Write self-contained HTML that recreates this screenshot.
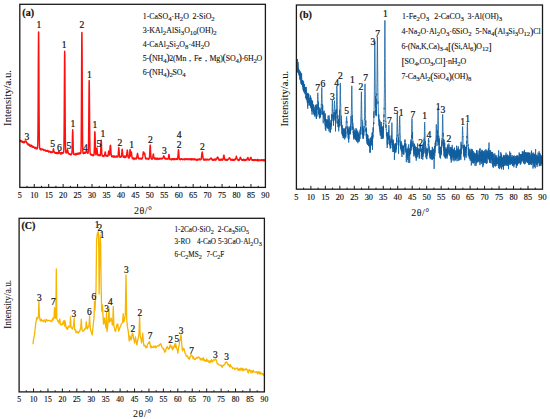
<!DOCTYPE html>
<html><head><meta charset="utf-8"><style>
html,body{margin:0;padding:0;background:#fff;}
body{width:550px;height:419px;overflow:hidden;font-family:"Liberation Serif",serif;}
svg{display:block;}
</style></head><body>
<svg width="550" height="419" viewBox="0 0 550 419" font-family='"Liberation Serif", serif' fill="#111">
<style>text{stroke:#111;stroke-width:0.2px;} text.lg{stroke-width:0.1px;} text.tk{stroke-width:0.15px;} text.ax{stroke-width:0.05px;}</style>
<rect width="550" height="419" fill="#fff"/>
<polyline points="19.80,140.55 19.92,140.59 20.04,141.17 20.16,140.31 20.28,140.99 20.40,140.39 20.52,141.43 20.64,141.19 20.76,141.57 20.88,141.04 21.00,141.35 21.12,141.17 21.24,141.07 21.36,141.37 21.48,140.98 21.60,141.28 21.72,141.63 21.84,141.47 21.96,141.37 22.08,142.18 22.20,141.57 22.32,141.41 22.44,141.66 22.56,141.49 22.68,141.56 22.80,141.61 22.92,142.35 23.04,141.78 23.16,141.86 23.28,142.04 23.40,142.47 23.52,141.83 23.64,141.74 23.76,142.70 23.88,141.55 24.00,141.91 24.12,142.24 24.24,142.74 24.36,141.78 24.48,141.33 24.60,142.23 24.72,141.83 24.84,141.79 24.96,141.93 25.08,141.72 25.20,141.58 25.32,141.21 25.44,141.57 25.56,141.52 25.68,141.01 25.80,140.86 25.92,141.34 26.04,141.45 26.16,141.23 26.28,141.67 26.40,142.40 26.52,142.33 26.64,142.51 26.76,142.90 26.88,143.03 27.00,143.21 27.12,142.77 27.24,144.00 27.36,143.64 27.48,143.42 27.60,144.07 27.72,143.96 27.84,143.96 27.96,144.36 28.08,144.81 28.20,144.38 28.32,144.78 28.44,145.03 28.56,144.17 28.68,144.40 28.80,144.88 28.92,144.22 29.04,144.73 29.16,145.29 29.28,145.30 29.40,145.25 29.52,144.59 29.64,145.95 29.76,145.49 29.88,145.64 30.00,145.65 30.12,145.04 30.24,145.18 30.36,145.30 30.48,146.29 30.60,145.52 30.72,145.75 30.84,145.80 30.96,146.10 31.08,146.14 31.20,146.12 31.32,145.72 31.44,145.21 31.56,146.25 31.68,146.34 31.80,146.68 31.92,146.33 32.04,146.23 32.16,146.60 32.28,146.06 32.40,146.27 32.52,146.33 32.64,146.77 32.76,147.37 32.88,147.03 33.00,147.19 33.12,146.98 33.24,147.04 33.36,146.88 33.48,146.98 33.60,146.39 33.72,146.81 33.84,146.84 33.96,147.53 34.08,147.53 34.20,147.73 34.32,147.91 34.44,147.41 34.56,147.87 34.68,148.19 34.80,147.66 34.92,148.04 35.04,147.72 35.16,147.34 35.28,147.91 35.40,147.68 35.52,148.02 35.64,147.90 35.76,148.19 35.88,147.50 36.00,148.83 36.12,148.63 36.24,148.14 36.36,148.00 36.48,148.30 36.60,148.52 36.72,148.47 36.84,148.49 36.96,147.80 37.08,148.07 37.20,148.83 37.32,148.47 37.44,147.79 37.56,147.43 37.68,145.67 37.80,141.98 37.92,134.77 38.04,120.48 38.16,100.29 38.28,74.71 38.40,49.67 38.52,33.52 38.64,31.87 38.76,43.23 38.88,65.83 39.00,92.37 39.12,114.63 39.24,130.79 39.36,140.97 39.48,144.98 39.60,147.85 39.72,148.25 39.84,148.44 39.96,148.72 40.08,149.36 40.20,149.00 40.32,148.50 40.44,148.75 40.56,149.58 40.68,149.45 40.80,148.83 40.92,149.93 41.04,149.10 41.16,148.87 41.28,149.21 41.40,149.57 41.52,149.80 41.64,149.64 41.76,149.22 41.88,149.20 42.00,148.95 42.12,149.41 42.24,149.29 42.36,149.58 42.48,149.16 42.60,149.42 42.72,149.35 42.84,149.28 42.96,149.32 43.08,149.41 43.20,149.40 43.32,149.97 43.44,149.86 43.56,149.46 43.68,150.06 43.80,150.03 43.92,150.42 44.04,149.95 44.16,149.98 44.28,149.87 44.40,150.16 44.52,150.31 44.64,150.25 44.76,150.15 44.88,150.44 45.00,150.33 45.12,150.41 45.24,150.09 45.36,150.47 45.48,150.14 45.60,150.22 45.72,150.57 45.84,151.20 45.96,150.89 46.08,150.63 46.20,150.61 46.32,151.00 46.44,151.16 46.56,151.14 46.68,150.75 46.80,150.90 46.92,150.77 47.04,150.82 47.16,150.69 47.28,150.91 47.40,150.36 47.52,150.69 47.64,151.22 47.76,150.84 47.88,151.33 48.00,150.80 48.12,151.12 48.24,151.38 48.36,150.98 48.48,151.11 48.60,152.11 48.72,151.18 48.84,151.20 48.96,151.27 49.08,151.49 49.20,151.50 49.32,151.84 49.44,151.82 49.56,151.48 49.68,151.53 49.80,151.23 49.92,151.24 50.04,151.50 50.16,151.99 50.28,151.83 50.40,152.07 50.52,152.14 50.64,151.84 50.76,152.56 50.88,151.79 51.00,151.79 51.12,151.88 51.24,152.39 51.36,152.03 51.48,151.88 51.60,152.27 51.72,152.51 51.84,152.16 51.96,152.15 52.08,152.59 52.20,152.59 52.32,152.60 52.44,152.08 52.56,152.38 52.68,152.30 52.80,151.41 52.92,151.94 53.04,151.03 53.16,150.19 53.28,150.30 53.40,149.17 53.52,148.79 53.64,149.28 53.76,150.08 53.88,150.90 54.00,151.35 54.12,151.67 54.24,152.10 54.36,152.29 54.48,152.34 54.60,152.73 54.72,152.62 54.84,152.81 54.96,152.56 55.08,152.57 55.20,152.80 55.32,152.77 55.44,153.24 55.56,152.63 55.68,152.99 55.80,152.94 55.92,152.57 56.04,153.21 56.16,153.06 56.28,152.38 56.40,153.23 56.52,153.35 56.64,152.84 56.76,153.62 56.88,153.17 57.00,152.79 57.12,153.33 57.24,153.07 57.36,152.79 57.48,152.56 57.60,153.31 57.72,153.03 57.84,153.47 57.96,153.39 58.08,153.09 58.20,153.02 58.32,153.57 58.44,153.30 58.56,152.65 58.68,151.87 58.80,151.25 58.92,151.15 59.04,151.72 59.16,151.53 59.28,151.66 59.40,151.80 59.52,152.62 59.64,152.59 59.76,153.05 59.88,153.37 60.00,153.51 60.12,153.24 60.24,153.08 60.36,153.24 60.48,153.71 60.60,153.26 60.72,152.70 60.84,153.59 60.96,153.18 61.08,154.15 61.20,152.92 61.32,153.02 61.44,152.95 61.56,153.14 61.68,152.83 61.80,152.54 61.92,152.39 62.04,152.92 62.16,152.79 62.28,152.75 62.40,153.56 62.52,153.14 62.64,153.22 62.76,152.72 62.88,152.95 63.00,152.77 63.12,152.76 63.24,153.03 63.36,152.95 63.48,152.77 63.60,152.43 63.72,151.09 63.84,149.11 63.96,144.61 64.08,135.17 64.20,120.13 64.32,100.27 64.44,77.65 64.56,59.28 64.68,51.16 64.80,55.16 64.92,71.44 65.04,92.83 65.16,114.29 65.28,131.22 65.40,141.22 65.52,147.94 65.64,150.45 65.76,151.87 65.88,152.39 66.00,152.92 66.12,152.55 66.24,153.05 66.36,152.38 66.48,152.48 66.60,152.44 66.72,152.54 66.84,151.94 66.96,151.32 67.08,150.85 67.20,149.91 67.32,150.19 67.44,149.74 67.56,149.71 67.68,150.09 67.80,150.50 67.92,151.30 68.04,152.34 68.16,152.37 68.28,152.72 68.40,153.66 68.52,153.80 68.64,153.51 68.76,153.66 68.88,153.63 69.00,154.08 69.12,153.58 69.24,153.81 69.36,154.00 69.48,154.35 69.60,153.91 69.72,154.12 69.84,153.97 69.96,153.99 70.08,154.06 70.20,154.35 70.32,154.67 70.44,154.26 70.56,154.32 70.68,154.37 70.80,154.59 70.92,154.69 71.04,154.10 71.16,154.58 71.28,154.16 71.40,154.67 71.52,154.12 71.64,153.98 71.76,153.81 71.88,153.31 72.00,151.56 72.12,149.28 72.24,145.23 72.36,140.09 72.48,134.95 72.60,131.36 72.72,129.82 72.84,132.09 72.96,136.49 73.08,141.19 73.20,146.75 73.32,149.96 73.44,152.18 73.56,153.41 73.68,154.09 73.80,154.36 73.92,154.47 74.04,154.13 74.16,154.55 74.28,154.46 74.40,154.21 74.52,154.32 74.64,154.56 74.76,154.44 74.88,154.51 75.00,154.33 75.12,154.62 75.24,154.93 75.36,154.38 75.48,153.74 75.60,154.72 75.72,154.01 75.84,153.75 75.96,153.43 76.08,154.26 76.20,154.44 76.32,154.39 76.44,153.95 76.56,154.48 76.68,154.01 76.80,153.83 76.92,154.01 77.04,154.04 77.16,153.97 77.28,154.06 77.40,153.26 77.52,154.37 77.64,153.71 77.76,154.05 77.88,153.60 78.00,153.87 78.12,153.75 78.24,153.31 78.36,153.88 78.48,153.93 78.60,153.39 78.72,153.08 78.84,153.49 78.96,153.41 79.08,153.68 79.20,153.62 79.32,154.09 79.44,153.78 79.56,153.49 79.68,153.60 79.80,152.67 79.92,153.24 80.04,153.22 80.16,153.45 80.28,153.56 80.40,153.51 80.52,153.70 80.64,153.13 80.76,153.18 80.88,152.32 81.00,150.40 81.12,145.93 81.24,136.62 81.36,121.16 81.48,98.60 81.60,72.27 81.72,47.29 81.84,32.41 81.96,33.09 82.08,47.46 82.20,72.04 82.32,98.83 82.44,120.66 82.56,136.75 82.68,145.86 82.80,150.30 82.92,152.39 83.04,153.04 83.16,153.38 83.28,152.88 83.40,153.20 83.52,152.90 83.64,153.42 83.76,153.07 83.88,152.63 84.00,153.03 84.12,152.68 84.24,153.25 84.36,152.84 84.48,152.26 84.60,152.78 84.72,153.19 84.84,152.96 84.96,152.65 85.08,153.00 85.20,152.95 85.32,153.16 85.44,152.91 85.56,152.63 85.68,152.12 85.80,152.21 85.92,151.94 86.04,151.56 86.16,151.41 86.28,150.73 86.40,151.17 86.52,151.10 86.64,151.41 86.76,151.55 86.88,151.80 87.00,152.25 87.12,152.65 87.24,152.50 87.36,152.82 87.48,152.58 87.60,153.00 87.72,152.92 87.84,152.56 87.96,153.27 88.08,152.54 88.20,152.38 88.32,150.68 88.44,147.53 88.56,142.27 88.68,131.67 88.80,117.48 88.92,102.05 89.04,87.62 89.16,80.46 89.28,82.72 89.40,92.35 89.52,107.90 89.64,123.77 89.76,136.56 89.88,145.16 90.00,150.62 90.12,152.60 90.24,153.79 90.36,154.14 90.48,153.91 90.60,154.48 90.72,154.47 90.84,154.71 90.96,154.79 91.08,155.11 91.20,154.15 91.32,154.61 91.44,154.70 91.56,154.65 91.68,155.09 91.80,155.01 91.92,155.14 92.04,154.68 92.16,154.94 92.28,155.27 92.40,155.16 92.52,155.10 92.64,155.24 92.76,155.18 92.88,154.94 93.00,155.74 93.12,155.03 93.24,155.42 93.36,155.39 93.48,155.49 93.60,155.01 93.72,154.85 93.84,155.17 93.96,154.83 94.08,153.36 94.20,151.83 94.32,149.83 94.44,145.89 94.56,140.87 94.68,135.94 94.80,131.80 94.92,131.83 95.04,133.33 95.16,137.79 95.28,142.73 95.40,146.79 95.52,150.98 95.64,152.91 95.76,154.31 95.88,154.58 96.00,154.84 96.12,154.13 96.24,153.71 96.36,152.88 96.48,151.37 96.60,150.01 96.72,149.04 96.84,148.67 96.96,148.05 97.08,149.15 97.20,149.89 97.32,151.57 97.44,153.11 97.56,154.16 97.68,154.31 97.80,155.14 97.92,155.18 98.04,155.61 98.16,155.54 98.28,155.44 98.40,155.18 98.52,155.39 98.64,155.08 98.76,155.10 98.88,154.81 99.00,154.99 99.12,155.01 99.24,155.37 99.36,155.45 99.48,155.04 99.60,155.42 99.72,155.58 99.84,155.75 99.96,155.45 100.08,155.53 100.20,155.26 100.32,155.38 100.44,154.01 100.56,153.29 100.68,150.44 100.80,148.70 100.92,145.11 101.04,141.27 101.16,140.15 101.28,140.24 101.40,142.30 101.52,145.93 101.64,149.11 101.76,152.39 101.88,153.76 102.00,154.64 102.12,155.46 102.24,155.83 102.36,156.05 102.48,155.99 102.60,155.43 102.72,155.64 102.84,155.85 102.96,155.67 103.08,156.16 103.20,155.85 103.32,155.95 103.44,155.88 103.56,156.01 103.68,155.55 103.80,156.62 103.92,155.82 104.04,155.76 104.16,155.42 104.28,155.84 104.40,155.30 104.52,155.49 104.64,155.24 104.76,154.36 104.88,153.23 105.00,152.97 105.12,152.04 105.24,152.01 105.36,152.41 105.48,152.95 105.60,154.04 105.72,154.31 105.84,154.72 105.96,155.97 106.08,155.61 106.20,155.82 106.32,156.07 106.44,155.85 106.56,155.64 106.68,155.94 106.80,155.72 106.92,156.16 107.04,155.86 107.16,155.92 107.28,156.22 107.40,155.53 107.52,155.54 107.64,156.16 107.76,156.24 107.88,155.72 108.00,155.15 108.12,155.17 108.24,154.17 108.36,153.37 108.48,151.60 108.60,151.44 108.72,151.00 108.84,151.32 108.96,152.57 109.08,153.53 109.20,153.98 109.32,154.54 109.44,155.10 109.56,154.49 109.68,153.37 109.80,152.20 109.92,150.37 110.04,148.10 110.16,146.64 110.28,145.69 110.40,145.38 110.52,145.29 110.64,146.63 110.76,148.41 110.88,150.03 111.00,152.56 111.12,153.80 111.24,155.10 111.36,154.76 111.48,155.58 111.60,156.59 111.72,155.76 111.84,155.70 111.96,156.34 112.08,156.77 112.20,156.51 112.32,156.06 112.44,156.52 112.56,156.50 112.68,156.48 112.80,156.53 112.92,156.68 113.04,156.79 113.16,156.87 113.28,156.80 113.40,156.46 113.52,155.98 113.64,156.70 113.76,156.12 113.88,157.25 114.00,156.25 114.12,156.06 114.24,156.07 114.36,156.75 114.48,156.73 114.60,156.85 114.72,156.75 114.84,156.45 114.96,156.93 115.08,156.50 115.20,156.27 115.32,157.00 115.44,156.90 115.56,156.48 115.68,156.69 115.80,157.08 115.92,157.06 116.04,156.48 116.16,157.14 116.28,156.06 116.40,156.86 116.52,156.96 116.64,156.82 116.76,156.91 116.88,156.41 117.00,156.86 117.12,157.06 117.24,156.65 117.36,156.97 117.48,156.89 117.60,156.26 117.72,156.71 117.84,156.94 117.96,156.02 118.08,155.90 118.20,154.98 118.32,153.03 118.44,151.50 118.56,149.99 118.68,148.54 118.80,147.50 118.92,148.62 119.04,149.81 119.16,151.59 119.28,153.82 119.40,155.06 119.52,155.96 119.64,156.72 119.76,156.93 119.88,157.24 120.00,156.88 120.12,156.40 120.24,157.39 120.36,157.17 120.48,157.08 120.60,156.94 120.72,156.89 120.84,156.94 120.96,156.62 121.08,157.09 121.20,156.80 121.32,156.29 121.44,156.24 121.56,155.34 121.68,154.30 121.80,153.00 121.92,152.03 122.04,149.56 122.16,149.27 122.28,149.51 122.40,150.39 122.52,152.19 122.64,153.21 122.76,154.60 122.88,155.68 123.00,155.88 123.12,156.93 123.24,156.39 123.36,156.98 123.48,157.19 123.60,156.59 123.72,156.78 123.84,156.77 123.96,157.34 124.08,156.90 124.20,156.30 124.32,157.14 124.44,157.12 124.56,156.22 124.68,156.00 124.80,157.58 124.92,156.83 125.04,156.18 125.16,157.15 125.28,157.28 125.40,156.18 125.52,157.29 125.64,157.14 125.76,156.95 125.88,156.75 126.00,157.07 126.12,156.66 126.24,156.82 126.36,156.44 126.48,155.94 126.60,155.56 126.72,154.76 126.84,153.62 126.96,152.31 127.08,151.65 127.20,150.10 127.32,150.33 127.44,150.76 127.56,151.94 127.68,152.06 127.80,153.82 127.92,154.98 128.04,156.03 128.16,157.29 128.28,157.11 128.40,157.27 128.52,157.57 128.64,157.82 128.76,157.53 128.88,158.10 129.00,157.23 129.12,157.89 129.24,157.52 129.36,157.16 129.48,156.53 129.60,154.79 129.72,153.44 129.84,151.77 129.96,150.21 130.08,149.58 130.20,149.90 130.32,151.50 130.44,152.10 130.56,153.87 130.68,155.29 130.80,156.01 130.92,155.26 131.04,154.85 131.16,153.46 131.28,152.52 131.40,151.93 131.52,152.81 131.64,154.17 131.76,154.87 131.88,155.71 132.00,157.14 132.12,157.22 132.24,157.68 132.36,158.57 132.48,158.47 132.60,158.69 132.72,158.51 132.84,158.44 132.96,158.55 133.08,158.43 133.20,158.86 133.32,158.19 133.44,158.04 133.56,158.37 133.68,158.92 133.80,158.52 133.92,158.01 134.04,159.55 134.16,158.42 134.28,158.64 134.40,158.87 134.52,158.81 134.64,158.65 134.76,158.24 134.88,158.86 135.00,158.41 135.12,158.65 135.24,158.93 135.36,158.58 135.48,158.17 135.60,158.52 135.72,158.88 135.84,158.91 135.96,158.31 136.08,158.70 136.20,158.74 136.32,158.92 136.44,158.61 136.56,158.33 136.68,157.85 136.80,157.57 136.92,156.96 137.04,155.85 137.16,154.94 137.28,154.77 137.40,153.73 137.52,153.37 137.64,154.08 137.76,154.12 137.88,154.99 138.00,156.46 138.12,156.99 138.24,157.85 138.36,158.30 138.48,158.14 138.60,158.68 138.72,158.51 138.84,158.73 138.96,158.76 139.08,158.67 139.20,158.31 139.32,158.79 139.44,158.71 139.56,158.86 139.68,158.39 139.80,158.76 139.92,158.64 140.04,158.57 140.16,158.62 140.28,158.63 140.40,158.29 140.52,158.54 140.64,158.56 140.76,158.84 140.88,158.65 141.00,159.12 141.12,158.88 141.24,158.79 141.36,158.76 141.48,158.28 141.60,158.80 141.72,159.06 141.84,158.38 141.96,159.04 142.08,158.78 142.20,158.58 142.32,158.19 142.44,158.03 142.56,157.36 142.68,156.97 142.80,156.19 142.92,155.24 143.04,153.83 143.16,153.47 143.28,152.18 143.40,151.96 143.52,151.86 143.64,151.87 143.76,153.20 143.88,153.23 144.00,153.97 144.12,154.19 144.24,154.41 144.36,153.65 144.48,153.76 144.60,153.13 144.72,153.14 144.84,154.05 144.96,155.01 145.08,155.71 145.20,156.54 145.32,157.04 145.44,157.86 145.56,158.59 145.68,158.79 145.80,158.29 145.92,158.70 146.04,159.01 146.16,158.48 146.28,158.54 146.40,158.43 146.52,158.82 146.64,158.14 146.76,158.66 146.88,158.84 147.00,158.68 147.12,158.98 147.24,158.88 147.36,158.55 147.48,158.40 147.60,158.39 147.72,158.84 147.84,158.66 147.96,158.73 148.08,158.43 148.20,159.04 148.32,158.96 148.44,158.92 148.56,158.37 148.68,159.46 148.80,158.94 148.92,158.36 149.04,158.93 149.16,158.50 149.28,158.04 149.40,157.48 149.52,156.79 149.64,155.01 149.76,152.59 149.88,149.68 150.00,146.85 150.12,145.52 150.24,145.11 150.36,146.39 150.48,149.00 150.60,152.12 150.72,154.00 150.84,156.43 150.96,157.20 151.08,158.37 151.20,158.66 151.32,158.63 151.44,158.74 151.56,158.46 151.68,158.60 151.80,158.98 151.92,158.92 152.04,159.36 152.16,158.38 152.28,158.50 152.40,158.57 152.52,158.35 152.64,157.81 152.76,157.24 152.88,156.53 153.00,156.03 153.12,154.81 153.24,154.14 153.36,154.46 153.48,154.08 153.60,155.40 153.72,156.37 153.84,157.45 153.96,157.29 154.08,158.27 154.20,158.23 154.32,158.92 154.44,158.91 154.56,158.56 154.68,158.84 154.80,158.36 154.92,158.76 155.04,158.78 155.16,159.01 155.28,158.57 155.40,158.07 155.52,158.93 155.64,158.38 155.76,158.54 155.88,158.59 156.00,159.18 156.12,158.69 156.24,159.04 156.36,158.72 156.48,158.29 156.60,158.83 156.72,158.85 156.84,158.54 156.96,158.24 157.08,159.53 157.20,159.32 157.32,158.82 157.44,158.84 157.56,158.98 157.68,158.87 157.80,158.27 157.92,158.30 158.04,158.94 158.16,159.10 158.28,159.01 158.40,158.94 158.52,158.70 158.64,158.98 158.76,159.15 158.88,158.86 159.00,159.07 159.12,159.05 159.24,158.49 159.36,159.04 159.48,158.48 159.60,158.43 159.72,159.17 159.84,158.22 159.96,158.65 160.08,158.96 160.20,158.81 160.32,158.59 160.44,158.43 160.56,158.85 160.68,158.86 160.80,158.68 160.92,158.42 161.04,158.28 161.16,158.70 161.28,158.69 161.40,158.94 161.52,158.61 161.64,158.96 161.76,158.34 161.88,158.19 162.00,158.96 162.12,158.56 162.24,158.42 162.36,158.59 162.48,158.21 162.60,158.38 162.72,157.94 162.84,158.20 162.96,157.74 163.08,157.61 163.20,157.30 163.32,157.10 163.44,156.17 163.56,156.46 163.68,156.18 163.80,155.87 163.92,156.19 164.04,156.59 164.16,156.85 164.28,157.61 164.40,157.28 164.52,157.76 164.64,158.58 164.76,158.10 164.88,158.23 165.00,158.49 165.12,158.56 165.24,158.80 165.36,158.90 165.48,158.67 165.60,158.58 165.72,158.91 165.84,158.58 165.96,158.71 166.08,159.06 166.20,158.94 166.32,158.68 166.44,158.56 166.56,158.70 166.68,158.56 166.80,159.16 166.92,159.22 167.04,159.10 167.16,159.11 167.28,158.89 167.40,159.09 167.52,159.06 167.64,159.06 167.76,158.90 167.88,158.70 168.00,159.00 168.12,158.84 168.24,158.05 168.36,157.74 168.48,157.04 168.60,156.33 168.72,154.92 168.84,154.55 168.96,154.57 169.08,155.08 169.20,155.91 169.32,157.34 169.44,157.54 169.56,159.08 169.68,158.91 169.80,159.23 169.92,159.12 170.04,159.43 170.16,159.30 170.28,159.43 170.40,159.37 170.52,159.38 170.64,159.31 170.76,159.52 170.88,159.21 171.00,159.05 171.12,159.66 171.24,159.06 171.36,159.32 171.48,159.81 171.60,159.02 171.72,159.12 171.84,159.01 171.96,158.93 172.08,159.39 172.20,159.14 172.32,159.24 172.44,158.71 172.56,159.34 172.68,158.99 172.80,158.64 172.92,158.99 173.04,158.74 173.16,159.66 173.28,158.71 173.40,159.28 173.52,158.90 173.64,158.96 173.76,158.83 173.88,159.55 174.00,158.88 174.12,159.02 174.24,159.27 174.36,159.09 174.48,159.40 174.60,158.99 174.72,158.73 174.84,159.33 174.96,159.55 175.08,159.35 175.20,158.96 175.32,159.54 175.44,159.43 175.56,159.09 175.68,159.33 175.80,159.19 175.92,159.23 176.04,159.39 176.16,159.45 176.28,159.23 176.40,159.22 176.52,158.48 176.64,158.97 176.76,159.33 176.88,158.97 177.00,159.31 177.12,159.14 177.24,159.21 177.36,159.18 177.48,159.45 177.60,159.00 177.72,158.43 177.84,157.27 177.96,156.45 178.08,154.31 178.20,153.05 178.32,150.76 178.44,149.76 178.56,149.89 178.68,150.68 178.80,152.83 178.92,154.72 179.04,156.15 179.16,157.46 179.28,158.95 179.40,159.19 179.52,159.23 179.64,159.24 179.76,159.62 179.88,159.09 180.00,159.12 180.12,159.16 180.24,158.90 180.36,158.95 180.48,159.73 180.60,159.25 180.72,158.95 180.84,159.13 180.96,159.06 181.08,159.08 181.20,159.19 181.32,158.78 181.44,158.68 181.56,159.14 181.68,159.13 181.80,158.86 181.92,159.17 182.04,159.04 182.16,159.26 182.28,159.14 182.40,159.52 182.52,159.61 182.64,159.39 182.76,159.21 182.88,159.45 183.00,159.41 183.12,159.34 183.24,159.43 183.36,159.10 183.48,159.43 183.60,159.36 183.72,159.32 183.84,159.16 183.96,159.09 184.08,159.37 184.20,159.06 184.32,158.90 184.44,159.69 184.56,159.55 184.68,158.98 184.80,159.60 184.92,158.62 185.04,159.38 185.16,159.40 185.28,159.28 185.40,159.15 185.52,159.43 185.64,159.35 185.76,158.88 185.88,159.00 186.00,159.49 186.12,159.42 186.24,158.88 186.36,158.78 186.48,159.33 186.60,158.97 186.72,159.00 186.84,159.06 186.96,159.27 187.08,158.63 187.20,159.43 187.32,159.10 187.44,159.47 187.56,158.88 187.68,158.96 187.80,159.35 187.92,159.49 188.04,159.19 188.16,159.11 188.28,159.59 188.40,159.52 188.52,159.29 188.64,159.14 188.76,159.57 188.88,159.41 189.00,159.11 189.12,159.63 189.24,159.52 189.36,159.27 189.48,159.34 189.60,159.43 189.72,159.08 189.84,158.86 189.96,159.55 190.08,158.74 190.20,158.78 190.32,158.81 190.44,159.36 190.56,159.52 190.68,159.04 190.80,159.60 190.92,159.71 191.04,159.63 191.16,158.87 191.28,159.62 191.40,159.91 191.52,159.00 191.64,158.79 191.76,159.63 191.88,159.41 192.00,159.26 192.12,159.26 192.24,158.78 192.36,159.04 192.48,159.34 192.60,159.42 192.72,159.56 192.84,159.56 192.96,159.16 193.08,159.28 193.20,159.71 193.32,158.92 193.44,159.46 193.56,159.07 193.68,159.38 193.80,159.85 193.92,159.44 194.04,159.20 194.16,159.14 194.28,158.93 194.40,159.33 194.52,158.69 194.64,159.32 194.76,159.39 194.88,159.09 195.00,159.13 195.12,159.70 195.24,159.72 195.36,159.96 195.48,159.70 195.60,159.47 195.72,159.32 195.84,159.74 195.96,159.58 196.08,159.44 196.20,159.91 196.32,159.35 196.44,159.45 196.56,159.72 196.68,159.55 196.80,159.44 196.92,159.72 197.04,160.22 197.16,159.33 197.28,159.63 197.40,159.55 197.52,159.48 197.64,159.92 197.76,159.42 197.88,159.94 198.00,159.17 198.12,159.49 198.24,159.22 198.36,159.57 198.48,159.66 198.60,159.63 198.72,159.54 198.84,159.40 198.96,159.13 199.08,159.73 199.20,159.49 199.32,159.82 199.44,159.01 199.56,159.42 199.68,159.01 199.80,159.82 199.92,159.30 200.04,159.21 200.16,159.77 200.28,159.49 200.40,159.58 200.52,159.47 200.64,159.81 200.76,159.52 200.88,159.42 201.00,159.18 201.12,159.19 201.24,158.82 201.36,157.80 201.48,157.37 201.60,155.74 201.72,154.90 201.84,153.94 201.96,153.00 202.08,152.77 202.20,152.01 202.32,152.17 202.44,153.28 202.56,153.86 202.68,155.17 202.80,156.23 202.92,156.97 203.04,157.83 203.16,158.80 203.28,158.98 203.40,159.27 203.52,159.62 203.64,159.31 203.76,159.23 203.88,159.50 204.00,160.09 204.12,159.80 204.24,160.28 204.36,159.93 204.48,159.91 204.60,159.50 204.72,159.17 204.84,159.04 204.96,159.70 205.08,159.34 205.20,159.32 205.32,159.83 205.44,159.76 205.56,159.30 205.68,159.75 205.80,160.08 205.92,159.96 206.04,159.49 206.16,159.96 206.28,159.12 206.40,159.61 206.52,159.57 206.64,160.06 206.76,159.36 206.88,159.44 207.00,159.62 207.12,159.94 207.24,159.32 207.36,159.80 207.48,159.63 207.60,159.60 207.72,159.37 207.84,159.86 207.96,159.79 208.08,159.87 208.20,159.80 208.32,159.72 208.44,159.49 208.56,159.74 208.68,159.97 208.80,159.77 208.92,159.87 209.04,159.94 209.16,159.74 209.28,159.52 209.40,159.24 209.52,159.79 209.64,159.27 209.76,159.14 209.88,159.07 210.00,159.13 210.12,158.99 210.24,158.39 210.36,158.45 210.48,158.72 210.60,158.15 210.72,158.32 210.84,158.09 210.96,157.98 211.08,158.14 211.20,158.69 211.32,158.88 211.44,158.20 211.56,159.03 211.68,159.18 211.80,158.92 211.92,159.46 212.04,159.34 212.16,160.03 212.28,159.40 212.40,160.03 212.52,159.41 212.64,159.47 212.76,160.20 212.88,159.58 213.00,159.67 213.12,159.34 213.24,159.85 213.36,160.21 213.48,159.72 213.60,159.73 213.72,159.81 213.84,159.58 213.96,159.43 214.08,159.82 214.20,159.71 214.32,159.30 214.44,159.10 214.56,159.94 214.68,159.44 214.80,159.94 214.92,160.06 215.04,159.78 215.16,159.63 215.28,159.06 215.40,160.23 215.52,160.04 215.64,159.54 215.76,159.42 215.88,159.83 216.00,159.05 216.12,159.76 216.24,159.73 216.36,158.97 216.48,158.85 216.60,159.49 216.72,158.62 216.84,158.58 216.96,158.19 217.08,157.46 217.20,158.14 217.32,158.15 217.44,157.39 217.56,157.25 217.68,157.96 217.80,157.16 217.92,157.64 218.04,157.52 218.16,157.67 218.28,158.19 218.40,157.83 218.52,158.48 218.64,159.05 218.76,159.01 218.88,159.05 219.00,160.21 219.12,159.81 219.24,159.50 219.36,160.02 219.48,159.93 219.60,159.81 219.72,159.99 219.84,159.68 219.96,159.63 220.08,160.32 220.20,159.82 220.32,160.24 220.44,159.22 220.56,159.53 220.68,159.53 220.80,159.84 220.92,159.78 221.04,160.08 221.16,159.95 221.28,159.80 221.40,159.95 221.52,160.01 221.64,159.88 221.76,159.09 221.88,159.66 222.00,159.98 222.12,159.69 222.24,160.21 222.36,159.65 222.48,159.80 222.60,159.53 222.72,159.67 222.84,159.93 222.96,159.83 223.08,159.36 223.20,158.83 223.32,158.03 223.44,156.85 223.56,156.60 223.68,155.52 223.80,155.32 223.92,155.08 224.04,155.60 224.16,155.73 224.28,156.91 224.40,157.49 224.52,158.69 224.64,158.77 224.76,159.18 224.88,158.95 225.00,159.90 225.12,159.74 225.24,159.13 225.36,159.93 225.48,159.94 225.60,159.71 225.72,160.18 225.84,159.77 225.96,159.76 226.08,159.92 226.20,159.47 226.32,159.96 226.44,159.55 226.56,159.87 226.68,160.12 226.80,159.69 226.92,159.61 227.04,160.28 227.16,159.80 227.28,160.10 227.40,159.95 227.52,159.89 227.64,160.14 227.76,159.68 227.88,159.19 228.00,159.49 228.12,159.29 228.24,159.02 228.36,159.09 228.48,159.17 228.60,159.01 228.72,158.71 228.84,158.46 228.96,158.35 229.08,158.05 229.20,157.83 229.32,158.04 229.44,158.26 229.56,157.84 229.68,158.15 229.80,158.48 229.92,158.16 230.04,158.73 230.16,158.86 230.28,159.29 230.40,158.90 230.52,159.18 230.64,159.89 230.76,160.14 230.88,159.80 231.00,160.09 231.12,159.55 231.24,160.06 231.36,159.88 231.48,160.00 231.60,159.46 231.72,159.87 231.84,160.03 231.96,160.15 232.08,159.96 232.20,159.96 232.32,160.12 232.44,160.34 232.56,159.43 232.68,159.30 232.80,159.85 232.92,160.31 233.04,160.37 233.16,160.06 233.28,159.58 233.40,160.02 233.52,159.67 233.64,160.10 233.76,159.81 233.88,160.35 234.00,159.58 234.12,160.28 234.24,159.65 234.36,160.06 234.48,159.95 234.60,159.47 234.72,159.29 234.84,159.78 234.96,159.70 235.08,159.55 235.20,159.83 235.32,159.54 235.44,159.39 235.56,158.59 235.68,158.45 235.80,158.01 235.92,157.90 236.04,157.58 236.16,156.79 236.28,156.81 236.40,156.17 236.52,157.70 236.64,157.58 236.76,158.06 236.88,158.46 237.00,158.73 237.12,158.62 237.24,159.13 237.36,159.35 237.48,159.65 237.60,159.47 237.72,159.90 237.84,160.05 237.96,159.93 238.08,159.93 238.20,160.58 238.32,159.66 238.44,159.70 238.56,160.14 238.68,159.79 238.80,160.39 238.92,159.68 239.04,159.85 239.16,160.31 239.28,159.26 239.40,159.91 239.52,159.51 239.64,159.25 239.76,159.29 239.88,158.37 240.00,158.37 240.12,157.73 240.24,158.01 240.36,157.16 240.48,157.53 240.60,157.55 240.72,157.66 240.84,158.61 240.96,158.55 241.08,159.17 241.20,158.61 241.32,159.21 241.44,159.38 241.56,159.89 241.68,159.38 241.80,159.99 241.92,160.19 242.04,159.95 242.16,159.97 242.28,159.82 242.40,159.68 242.52,159.92 242.64,160.00 242.76,160.37 242.88,159.99 243.00,159.73 243.12,160.18 243.24,159.64 243.36,159.35 243.48,159.87 243.60,159.73 243.72,160.13 243.84,159.93 243.96,159.56 244.08,159.73 244.20,159.80 244.32,160.55 244.44,159.58 244.56,159.64 244.68,160.31 244.80,160.38 244.92,159.85 245.04,160.36 245.16,159.93 245.28,159.69 245.40,159.93 245.52,160.22 245.64,160.39 245.76,159.90 245.88,159.58 246.00,160.03 246.12,159.82 246.24,159.75 246.36,160.06 246.48,159.97 246.60,159.50 246.72,159.58 246.84,160.06 246.96,159.41 247.08,159.76 247.20,158.24 247.32,158.31 247.44,158.32 247.56,157.76 247.68,157.92 247.80,157.82 247.92,157.47 248.04,158.59 248.16,158.84 248.28,158.14 248.40,158.87 248.52,158.86 248.64,159.37 248.76,159.54 248.88,159.73 249.00,160.21 249.12,160.28 249.24,159.86 249.36,160.07 249.48,160.12 249.60,159.41 249.72,159.80 249.84,159.33 249.96,159.76 250.08,159.52 250.20,158.91 250.32,158.89 250.44,158.01 250.56,157.55 250.68,157.97 250.80,157.51 250.92,157.68 251.04,157.40 251.16,158.31 251.28,158.44 251.40,158.79 251.52,158.85 251.64,159.22 251.76,159.53 251.88,159.85 252.00,160.28 252.12,159.45 252.24,159.58 252.36,159.73 252.48,159.81 252.60,159.78 252.72,159.69 252.84,159.84 252.96,160.17 253.08,159.92 253.20,159.77 253.32,160.22 253.44,160.09 253.56,159.76 253.68,160.40 253.80,159.86 253.92,159.76 254.04,160.16 254.16,159.81 254.28,159.76 254.40,160.46 254.52,159.92 254.64,159.77 254.76,160.12 254.88,160.02 255.00,159.49 255.12,159.93 255.24,160.21 255.36,159.93 255.48,160.20 255.60,159.73 255.72,160.32 255.84,159.97 255.96,159.86 256.08,159.71 256.20,160.35 256.32,160.07 256.44,159.96 256.56,160.18 256.68,160.04 256.80,159.98 256.92,160.19 257.04,159.95 257.16,160.36 257.28,160.78 257.40,159.59 257.52,160.10 257.64,159.97 257.76,160.29 257.88,159.52 258.00,160.73 258.12,160.34 258.24,160.71 258.36,160.44 258.48,159.81 258.60,160.06 258.72,160.60 258.84,160.45 258.96,159.89 259.08,160.19 259.20,160.52 259.32,160.51 259.44,160.01 259.56,160.24 259.68,160.29 259.80,160.06 259.92,160.06 260.04,160.42 260.16,160.13 260.28,160.12 260.40,160.48 260.52,160.48 260.64,160.31 260.76,160.02 260.88,159.91 261.00,159.82 261.12,159.96 261.24,160.24 261.36,159.77 261.48,159.90 261.60,159.86 261.72,160.21 261.84,160.03 261.96,160.61 262.08,160.55 262.20,160.18 262.32,160.13 262.44,160.49 262.56,159.91 262.68,160.45 262.80,159.80 262.92,160.06 263.04,160.27 263.16,160.21 263.28,159.70 263.40,159.94 263.52,160.22 263.64,159.71 263.76,160.71 263.88,159.98 264.00,160.23 264.12,161.01 264.24,160.11 264.36,160.27 264.48,160.37 264.60,160.15 264.72,159.90 264.84,159.74 264.96,160.27" fill="none" stroke="#ff1010" stroke-width="1.45" stroke-linejoin="round" />
<rect x="19.8" y="4.3" width="245.60" height="183.10" fill="none" stroke="#1a1a1a" stroke-width="1.3"/>
<path d="M27.02 187.40V185.80M34.25 187.40V184.00M41.47 187.40V185.80M48.69 187.40V184.00M55.92 187.40V185.80M63.14 187.40V184.00M70.36 187.40V185.80M77.59 187.40V184.00M84.81 187.40V185.80M92.04 187.40V184.00M99.26 187.40V185.80M106.48 187.40V184.00M113.71 187.40V185.80M120.93 187.40V184.00M128.15 187.40V185.80M135.38 187.40V184.00M142.60 187.40V185.80M149.82 187.40V184.00M157.05 187.40V185.80M164.27 187.40V184.00M171.49 187.40V185.80M178.72 187.40V184.00M185.94 187.40V185.80M193.16 187.40V184.00M200.39 187.40V185.80M207.61 187.40V184.00M214.84 187.40V185.80M222.06 187.40V184.00M229.28 187.40V185.80M236.51 187.40V184.00M243.73 187.40V185.80M250.95 187.40V184.00M258.18 187.40V185.80" stroke="#1a1a1a" stroke-width="1" fill="none"/>
<text class="tk" x="19.80" y="197.80" text-anchor="middle" font-size="8.1">5</text>
<text class="tk" x="34.25" y="197.80" text-anchor="middle" font-size="8.1">10</text>
<text class="tk" x="48.69" y="197.80" text-anchor="middle" font-size="8.1">15</text>
<text class="tk" x="63.14" y="197.80" text-anchor="middle" font-size="8.1">20</text>
<text class="tk" x="77.59" y="197.80" text-anchor="middle" font-size="8.1">25</text>
<text class="tk" x="92.04" y="197.80" text-anchor="middle" font-size="8.1">30</text>
<text class="tk" x="106.48" y="197.80" text-anchor="middle" font-size="8.1">35</text>
<text class="tk" x="120.93" y="197.80" text-anchor="middle" font-size="8.1">40</text>
<text class="tk" x="135.38" y="197.80" text-anchor="middle" font-size="8.1">45</text>
<text class="tk" x="149.82" y="197.80" text-anchor="middle" font-size="8.1">50</text>
<text class="tk" x="164.27" y="197.80" text-anchor="middle" font-size="8.1">55</text>
<text class="tk" x="178.72" y="197.80" text-anchor="middle" font-size="8.1">60</text>
<text class="tk" x="193.16" y="197.80" text-anchor="middle" font-size="8.1">65</text>
<text class="tk" x="207.61" y="197.80" text-anchor="middle" font-size="8.1">70</text>
<text class="tk" x="222.06" y="197.80" text-anchor="middle" font-size="8.1">75</text>
<text class="tk" x="236.51" y="197.80" text-anchor="middle" font-size="8.1">80</text>
<text class="tk" x="250.95" y="197.80" text-anchor="middle" font-size="8.1">85</text>
<text class="tk" x="265.40" y="197.80" text-anchor="middle" font-size="8.1">90</text>
<text x="22.3" y="16.2" font-size="10" font-weight="bold">(a)</text>
<text class="ax" transform="translate(11.2 98.0) rotate(-90)" text-anchor="middle" font-size="10.7">Intensity/a.u.</text>
<text class="ax" x="143.3" y="214.10000000000002" text-anchor="middle" font-size="10" letter-spacing="0.5">2θ/°</text>
<text x="27" y="139.7" text-anchor="middle" font-size="9.6">3</text>
<text x="52.6" y="147.4" text-anchor="middle" font-size="9.6">5</text>
<text x="59.5" y="151.3" text-anchor="middle" font-size="9.6">6</text>
<text x="69" y="148.6" text-anchor="middle" font-size="9.6">5</text>
<text x="38.9" y="28.4" text-anchor="middle" font-size="9.6">1</text>
<text x="64.1" y="48.3" text-anchor="middle" font-size="9.6">1</text>
<text x="81.9" y="28.0" text-anchor="middle" font-size="9.6">2</text>
<text x="89.5" y="78.1" text-anchor="middle" font-size="9.6">1</text>
<text x="72.9" y="127.3" text-anchor="middle" font-size="9.6">1</text>
<text x="85.5" y="151.3" text-anchor="middle" font-size="9.6">4</text>
<text x="94.9" y="128.1" text-anchor="middle" font-size="9.6">1</text>
<text x="98.9" y="146.7" text-anchor="middle" font-size="9.6">5</text>
<text x="102.8" y="136.9" text-anchor="middle" font-size="9.6">1</text>
<text x="119.9" y="145.7" text-anchor="middle" font-size="9.6">2</text>
<text x="131.6" y="147.7" text-anchor="middle" font-size="9.6">1</text>
<text x="150.5" y="142.6" text-anchor="middle" font-size="9.6">2</text>
<text x="164.5" y="154" text-anchor="middle" font-size="9.6">3</text>
<text x="179.1" y="138.4" text-anchor="middle" font-size="9.6">4</text>
<text x="179.1" y="147.7" text-anchor="middle" font-size="9.6">2</text>
<text x="202.4" y="150.4" text-anchor="middle" font-size="9.6">2</text>
<polyline points="296.60,65.12 296.67,59.82 296.73,62.91 296.80,71.35 296.86,60.62 296.93,66.50 296.99,63.00 297.06,65.77 297.12,64.94 297.19,65.15 297.25,58.96 297.31,62.31 297.38,64.48 297.44,72.23 297.51,64.27 297.57,67.64 297.64,63.30 297.70,64.39 297.77,65.49 297.83,66.09 297.90,65.83 297.96,66.80 298.03,61.94 298.09,65.94 298.16,72.97 298.22,70.06 298.29,67.02 298.35,69.31 298.42,70.89 298.48,70.57 298.55,69.47 298.61,69.09 298.68,69.55 298.74,70.72 298.81,70.00 298.87,71.34 298.94,73.92 299.00,71.12 299.07,74.96 299.13,69.70 299.20,70.24 299.26,75.75 299.33,72.91 299.39,72.67 299.46,72.05 299.52,75.83 299.59,76.16 299.65,74.71 299.72,76.08 299.78,76.26 299.85,73.66 299.91,79.19 299.98,73.94 300.04,70.92 300.11,76.83 300.17,80.21 300.24,78.00 300.30,72.52 300.37,78.04 300.43,79.06 300.50,78.11 300.56,77.26 300.63,72.25 300.69,76.10 300.76,73.20 300.82,78.03 300.89,79.48 300.95,83.31 301.02,76.77 301.08,76.07 301.15,80.18 301.21,83.65 301.28,83.19 301.34,81.86 301.41,80.89 301.47,83.55 301.54,84.87 301.60,73.37 301.67,77.44 301.73,83.44 301.80,82.89 301.86,81.79 301.93,82.72 301.99,81.40 302.06,84.53 302.12,79.85 302.19,85.03 302.25,81.53 302.32,84.00 302.38,80.53 302.45,80.13 302.51,85.90 302.58,85.72 302.64,87.26 302.71,85.55 302.77,80.57 302.84,82.37 302.90,85.59 302.97,80.78 303.03,81.88 303.10,89.44 303.16,89.74 303.23,87.13 303.29,87.22 303.36,90.53 303.42,81.92 303.49,86.98 303.55,87.39 303.62,81.78 303.68,90.97 303.75,89.79 303.81,85.31 303.88,90.26 303.94,89.00 304.01,88.30 304.07,92.38 304.14,86.35 304.20,84.84 304.27,91.95 304.33,89.27 304.40,91.67 304.46,88.73 304.53,83.98 304.59,87.55 304.66,89.21 304.72,90.97 304.79,92.94 304.85,89.53 304.92,91.45 304.98,87.12 305.05,91.90 305.11,94.41 305.18,91.94 305.24,86.92 305.31,89.96 305.37,94.09 305.44,87.02 305.50,90.51 305.57,91.46 305.63,90.76 305.70,89.19 305.76,96.25 305.83,97.66 305.89,96.20 305.96,98.53 306.02,89.68 306.09,93.43 306.15,92.08 306.22,90.10 306.28,86.93 306.35,94.90 306.41,99.46 306.48,94.71 306.54,94.23 306.61,94.54 306.67,98.40 306.74,93.94 306.80,97.14 306.87,98.89 306.93,95.42 307.00,100.17 307.06,98.36 307.13,94.62 307.19,99.99 307.26,102.76 307.32,99.48 307.39,93.19 307.45,101.61 307.52,93.94 307.58,101.65 307.65,98.38 307.71,108.71 307.78,93.05 307.84,102.16 307.91,92.84 307.97,105.49 308.04,94.23 308.10,94.91 308.17,99.08 308.23,99.54 308.30,97.01 308.36,98.37 308.43,95.94 308.49,102.13 308.56,98.45 308.62,96.88 308.69,97.31 308.75,95.64 308.82,94.03 308.88,103.02 308.95,101.69 309.01,103.04 309.08,97.55 309.14,99.20 309.21,98.29 309.27,98.77 309.34,104.67 309.40,102.18 309.47,100.34 309.53,104.30 309.60,104.19 309.66,103.72 309.73,102.88 309.79,105.35 309.86,105.72 309.92,102.31 309.99,103.16 310.05,104.31 310.12,100.53 310.18,104.57 310.25,105.61 310.31,101.02 310.38,95.48 310.44,103.34 310.51,104.23 310.57,97.79 310.64,103.10 310.70,97.61 310.77,108.20 310.83,105.67 310.90,106.56 310.96,97.83 311.03,99.39 311.09,102.10 311.16,105.72 311.22,104.89 311.29,100.38 311.35,107.12 311.42,104.15 311.48,100.14 311.55,111.22 311.61,100.86 311.68,102.45 311.74,106.58 311.81,105.42 311.87,106.82 311.94,107.11 312.00,100.44 312.07,114.58 312.13,105.02 312.20,102.83 312.26,108.27 312.33,104.19 312.39,106.29 312.46,108.78 312.52,103.24 312.59,100.78 312.65,105.18 312.72,103.76 312.78,111.43 312.85,106.44 312.91,107.90 312.98,104.54 313.04,106.57 313.11,108.06 313.17,109.45 313.24,106.40 313.30,108.44 313.37,108.08 313.43,104.64 313.50,105.98 313.56,108.10 313.63,110.80 313.69,113.26 313.76,111.11 313.82,110.90 313.89,107.14 313.95,112.95 314.02,114.45 314.08,109.03 314.15,111.75 314.21,111.24 314.28,115.13 314.34,111.70 314.41,112.51 314.47,110.46 314.54,109.94 314.60,115.76 314.67,110.02 314.73,111.64 314.80,112.06 314.86,110.49 314.93,116.72 314.99,111.99 315.06,107.54 315.12,108.83 315.19,105.51 315.25,107.73 315.32,111.86 315.38,107.37 315.45,105.16 315.51,109.48 315.58,113.33 315.64,111.51 315.71,114.51 315.77,113.85 315.84,115.02 315.90,106.75 315.97,111.06 316.03,110.34 316.10,104.60 316.16,108.67 316.23,106.55 316.29,118.30 316.36,115.32 316.42,118.93 316.49,113.93 316.55,112.71 316.62,111.92 316.68,112.59 316.75,106.74 316.81,110.41 316.88,111.07 316.94,113.40 317.01,116.55 317.07,107.46 317.14,104.10 317.20,108.28 317.27,109.78 317.33,106.18 317.40,103.47 317.46,100.96 317.53,99.42 317.59,96.56 317.66,94.13 317.72,93.98 317.79,92.75 317.85,93.25 317.92,93.79 317.98,96.31 318.05,98.23 318.11,100.22 318.18,102.88 318.24,106.77 318.31,106.80 318.37,108.72 318.44,101.64 318.50,109.63 318.57,110.27 318.63,110.08 318.70,114.10 318.76,107.19 318.83,108.38 318.89,113.02 318.96,113.51 319.02,111.71 319.09,114.96 319.15,107.65 319.22,115.92 319.28,117.10 319.35,116.90 319.41,114.45 319.48,112.70 319.54,111.15 319.61,118.51 319.67,118.19 319.74,113.93 319.80,117.97 319.87,116.24 319.93,115.71 320.00,113.68 320.06,108.86 320.13,113.34 320.19,117.19 320.26,116.59 320.32,113.10 320.39,114.61 320.45,116.51 320.52,113.63 320.58,110.71 320.65,112.83 320.71,114.90 320.78,112.79 320.84,115.09 320.91,114.17 320.97,109.40 321.04,113.85 321.10,107.86 321.17,109.10 321.23,104.39 321.30,104.85 321.36,104.77 321.43,102.39 321.49,99.86 321.56,93.85 321.62,92.67 321.69,91.08 321.75,87.40 321.82,88.05 321.88,89.60 321.95,92.51 322.01,94.92 322.08,98.57 322.14,99.20 322.21,105.30 322.27,108.99 322.34,104.32 322.40,106.21 322.47,107.81 322.53,113.35 322.60,112.55 322.66,110.25 322.73,105.15 322.79,114.55 322.86,112.11 322.92,114.66 322.99,112.74 323.05,113.41 323.12,113.12 323.18,119.70 323.25,123.22 323.31,113.82 323.38,111.81 323.44,111.63 323.51,116.46 323.57,112.27 323.64,117.58 323.70,113.64 323.77,116.54 323.83,114.29 323.90,114.77 323.96,113.24 324.03,110.95 324.09,111.27 324.16,110.64 324.22,110.78 324.29,111.19 324.35,112.06 324.42,113.10 324.48,114.06 324.55,114.28 324.61,116.20 324.68,120.29 324.74,117.86 324.81,115.31 324.87,121.26 324.94,118.09 325.00,120.20 325.07,125.34 325.13,118.59 325.20,121.40 325.26,113.30 325.33,129.21 325.39,121.79 325.46,119.89 325.52,123.01 325.59,119.53 325.65,124.86 325.72,124.69 325.78,130.76 325.85,127.11 325.91,123.00 325.98,122.02 326.04,126.22 326.11,119.67 326.17,124.01 326.24,125.80 326.30,126.39 326.37,119.59 326.43,123.02 326.50,121.39 326.56,119.42 326.63,121.88 326.69,124.92 326.76,127.40 326.82,120.27 326.89,122.95 326.95,123.06 327.02,123.38 327.08,123.37 327.15,123.48 327.21,122.81 327.28,127.04 327.34,125.17 327.41,128.37 327.47,123.35 327.54,119.71 327.60,123.55 327.67,120.18 327.73,123.94 327.80,122.44 327.86,122.73 327.93,123.53 327.99,121.44 328.06,127.30 328.12,115.62 328.19,127.16 328.25,128.77 328.32,126.47 328.38,128.03 328.45,121.62 328.51,124.98 328.58,121.38 328.64,127.01 328.71,129.11 328.77,123.18 328.84,125.15 328.90,125.49 328.97,120.22 329.03,131.33 329.10,115.35 329.16,117.46 329.23,119.86 329.29,118.80 329.36,126.59 329.42,126.05 329.49,122.83 329.55,123.91 329.62,124.50 329.68,123.32 329.75,124.08 329.81,127.55 329.88,123.76 329.94,124.67 330.01,122.64 330.07,126.09 330.14,132.48 330.20,122.93 330.27,125.61 330.33,127.83 330.40,132.38 330.46,123.58 330.53,126.69 330.59,123.26 330.66,124.24 330.72,126.18 330.79,126.37 330.85,125.92 330.92,124.41 330.98,119.90 331.05,129.47 331.11,126.15 331.18,125.37 331.24,123.25 331.31,122.64 331.37,120.06 331.44,126.30 331.50,118.96 331.57,119.08 331.63,114.03 331.70,120.26 331.76,119.52 331.83,117.03 331.89,115.29 331.96,114.38 332.02,116.22 332.09,113.38 332.15,106.69 332.22,102.97 332.28,100.46 332.35,101.30 332.41,101.01 332.48,100.68 332.54,102.55 332.61,103.39 332.67,108.45 332.74,110.52 332.80,110.36 332.87,109.89 332.93,117.95 333.00,114.93 333.06,118.23 333.13,121.39 333.19,117.24 333.26,115.35 333.32,119.38 333.39,117.55 333.45,125.70 333.52,119.62 333.58,121.60 333.65,115.99 333.71,120.21 333.78,118.70 333.84,112.27 333.91,115.91 333.97,116.05 334.04,116.27 334.10,111.43 334.17,109.71 334.23,107.98 334.30,104.45 334.36,103.18 334.43,101.70 334.49,100.65 334.56,100.88 334.62,103.78 334.69,104.30 334.75,106.59 334.82,106.58 334.88,108.13 334.95,114.35 335.01,113.87 335.08,119.35 335.14,111.89 335.21,120.73 335.27,112.72 335.34,116.89 335.40,119.01 335.47,121.76 335.53,131.41 335.60,116.54 335.66,117.90 335.73,116.53 335.79,117.98 335.86,110.23 335.92,120.08 335.99,123.49 336.05,114.69 336.12,113.96 336.18,114.13 336.25,113.58 336.31,109.23 336.38,113.87 336.44,106.32 336.51,104.14 336.57,101.44 336.64,96.83 336.70,92.58 336.77,89.30 336.83,86.28 336.90,85.68 336.96,88.15 337.03,89.55 337.09,92.92 337.16,95.09 337.22,100.93 337.29,104.80 337.35,106.05 337.42,108.63 337.48,113.58 337.55,115.85 337.61,119.07 337.68,116.20 337.74,115.11 337.81,122.80 337.87,120.50 337.94,127.11 338.00,126.87 338.07,121.87 338.13,120.71 338.20,124.29 338.26,119.11 338.33,121.58 338.39,125.42 338.46,123.84 338.52,121.71 338.59,126.64 338.65,121.23 338.72,131.28 338.78,127.96 338.85,119.06 338.91,120.38 338.98,124.18 339.04,127.32 339.11,122.50 339.17,121.43 339.24,121.80 339.30,115.23 339.37,123.49 339.43,123.51 339.50,125.79 339.56,117.50 339.63,109.76 339.69,112.23 339.76,115.48 339.82,111.55 339.89,107.23 339.95,104.66 340.02,95.68 340.08,91.86 340.15,89.26 340.21,84.48 340.28,82.95 340.34,84.45 340.41,84.66 340.47,90.03 340.54,94.56 340.60,101.29 340.67,104.52 340.73,104.25 340.80,107.98 340.86,114.03 340.93,119.41 340.99,120.03 341.06,119.51 341.12,125.99 341.19,115.61 341.25,122.55 341.32,124.64 341.38,120.59 341.45,127.17 341.51,126.33 341.58,122.18 341.64,125.82 341.71,128.44 341.77,127.14 341.84,125.64 341.90,128.99 341.97,130.33 342.03,132.25 342.10,133.39 342.16,125.05 342.23,134.31 342.29,127.79 342.36,135.20 342.42,130.84 342.49,133.66 342.55,134.31 342.62,128.68 342.68,130.07 342.75,136.05 342.81,132.26 342.88,134.59 342.94,130.45 343.01,134.84 343.07,133.76 343.14,138.21 343.20,133.84 343.27,129.16 343.33,134.06 343.40,135.19 343.46,131.44 343.53,137.96 343.59,131.04 343.66,134.10 343.72,128.36 343.79,132.05 343.85,131.95 343.92,135.64 343.98,133.20 344.05,134.02 344.11,135.40 344.18,136.92 344.24,128.55 344.31,128.52 344.37,131.39 344.44,130.95 344.50,132.17 344.57,134.36 344.63,130.40 344.70,139.49 344.76,133.21 344.83,132.01 344.89,135.31 344.96,131.71 345.02,129.16 345.09,132.52 345.15,132.95 345.22,135.10 345.28,132.64 345.35,134.44 345.41,128.17 345.48,136.33 345.54,132.49 345.61,131.20 345.67,137.95 345.74,131.87 345.80,136.46 345.87,132.09 345.93,126.71 346.00,127.88 346.06,128.78 346.13,124.39 346.19,121.21 346.26,121.42 346.32,120.75 346.39,119.73 346.45,118.08 346.52,117.51 346.58,116.80 346.65,116.44 346.71,117.68 346.78,118.24 346.84,121.53 346.91,122.69 346.97,121.33 347.04,124.51 347.10,126.17 347.17,127.72 347.23,126.39 347.30,132.86 347.36,132.14 347.43,130.25 347.49,129.28 347.56,130.53 347.62,132.80 347.69,128.78 347.75,131.72 347.82,127.05 347.88,134.68 347.95,131.00 348.01,128.79 348.08,130.94 348.14,138.37 348.21,135.46 348.27,134.44 348.34,131.11 348.40,129.14 348.47,139.73 348.53,139.89 348.60,137.23 348.66,133.03 348.73,142.53 348.79,131.49 348.86,138.92 348.92,131.90 348.99,131.43 349.05,132.78 349.12,130.27 349.18,126.29 349.25,131.04 349.31,133.38 349.38,129.23 349.44,133.78 349.51,133.34 349.57,131.59 349.64,131.45 349.70,128.68 349.77,130.33 349.83,133.71 349.90,131.57 349.96,134.64 350.03,128.24 350.09,133.62 350.16,128.42 350.22,132.06 350.29,129.17 350.35,133.78 350.42,127.30 350.48,133.79 350.55,126.33 350.61,126.67 350.68,126.37 350.74,131.16 350.81,123.71 350.87,129.60 350.94,129.86 351.00,122.04 351.07,116.04 351.13,123.65 351.20,121.78 351.26,116.14 351.33,112.36 351.39,110.50 351.46,107.11 351.52,102.38 351.59,95.26 351.65,92.54 351.72,87.10 351.78,85.80 351.85,86.11 351.91,90.34 351.98,93.41 352.04,97.55 352.11,101.77 352.17,105.66 352.24,109.58 352.30,117.32 352.37,115.29 352.43,122.21 352.50,118.42 352.56,122.86 352.63,125.26 352.69,129.99 352.76,125.69 352.82,122.62 352.89,124.16 352.95,128.46 353.02,128.32 353.08,126.58 353.15,131.23 353.21,132.76 353.28,131.03 353.34,134.95 353.41,132.05 353.47,136.64 353.54,137.66 353.60,131.71 353.67,131.33 353.73,130.82 353.80,134.86 353.86,139.54 353.93,128.62 353.99,132.80 354.06,132.42 354.12,135.46 354.19,131.32 354.25,137.41 354.32,137.26 354.38,137.81 354.45,133.53 354.51,133.69 354.58,137.77 354.64,135.17 354.71,134.58 354.77,133.63 354.84,136.65 354.90,135.26 354.97,130.23 355.03,136.39 355.10,138.90 355.16,130.91 355.23,139.08 355.29,133.97 355.36,134.18 355.42,133.55 355.49,133.16 355.55,130.99 355.62,133.11 355.68,140.13 355.75,136.90 355.81,133.83 355.88,139.80 355.94,134.52 356.01,128.10 356.07,133.67 356.14,137.58 356.20,138.74 356.27,138.64 356.33,140.23 356.40,134.76 356.46,130.84 356.53,141.40 356.59,140.08 356.66,129.33 356.72,139.70 356.79,140.00 356.85,137.30 356.92,133.07 356.98,136.36 357.05,133.79 357.11,139.93 357.18,141.71 357.24,138.82 357.31,132.04 357.37,133.57 357.44,132.06 357.50,139.79 357.57,134.20 357.63,139.16 357.70,130.66 357.76,136.80 357.83,137.10 357.89,143.19 357.96,136.37 358.02,134.58 358.09,139.80 358.15,135.80 358.22,137.91 358.28,138.41 358.35,137.94 358.41,133.54 358.48,134.92 358.54,141.37 358.61,136.52 358.67,134.75 358.74,135.05 358.80,132.51 358.87,137.09 358.93,136.27 359.00,135.32 359.06,134.49 359.13,141.73 359.19,139.42 359.26,139.22 359.32,140.57 359.39,138.89 359.45,138.25 359.52,136.75 359.58,137.12 359.65,137.32 359.71,138.09 359.78,136.07 359.84,134.53 359.91,139.12 359.97,134.34 360.04,133.83 360.10,129.61 360.17,134.99 360.23,131.34 360.30,133.35 360.36,132.30 360.43,133.89 360.49,126.82 360.56,130.91 360.62,127.45 360.69,129.66 360.75,130.52 360.82,126.98 360.88,118.43 360.95,118.64 361.01,113.97 361.08,110.09 361.14,104.64 361.21,100.83 361.27,97.21 361.34,93.55 361.40,91.74 361.47,94.07 361.53,98.70 361.60,101.08 361.66,105.08 361.73,109.53 361.79,114.97 361.86,115.33 361.92,120.21 361.99,120.96 362.05,119.82 362.12,125.69 362.18,134.52 362.25,121.43 362.31,130.70 362.38,134.71 362.44,131.12 362.51,133.06 362.57,126.87 362.64,129.92 362.70,129.68 362.77,138.54 362.83,137.27 362.90,133.00 362.96,135.16 363.03,128.24 363.09,134.73 363.16,134.47 363.22,128.56 363.29,136.28 363.35,133.47 363.42,138.83 363.48,133.18 363.55,134.03 363.61,130.84 363.68,129.38 363.74,132.19 363.81,129.11 363.87,135.58 363.94,125.92 364.00,126.77 364.07,128.54 364.13,126.49 364.20,123.28 364.26,121.35 364.33,120.70 364.39,119.44 364.46,119.85 364.52,116.25 364.59,109.17 364.65,105.62 364.72,99.73 364.78,94.59 364.85,88.87 364.91,86.47 364.98,83.87 365.04,84.41 365.11,87.30 365.17,91.47 365.24,94.89 365.30,102.27 365.37,107.13 365.43,113.55 365.50,115.62 365.56,118.73 365.63,119.76 365.69,125.63 365.76,120.44 365.82,131.72 365.89,129.76 365.95,128.32 366.02,130.95 366.08,128.92 366.15,135.34 366.21,134.40 366.28,135.41 366.34,137.36 366.41,138.75 366.47,127.60 366.54,135.67 366.60,136.64 366.67,137.40 366.73,134.57 366.80,141.06 366.86,136.57 366.93,143.65 366.99,141.81 367.06,142.01 367.12,140.57 367.19,134.26 367.25,133.96 367.32,140.31 367.38,137.05 367.45,137.42 367.51,136.99 367.58,144.73 367.64,141.34 367.71,135.00 367.77,137.55 367.84,136.72 367.90,135.60 367.97,144.91 368.03,139.14 368.10,144.28 368.16,138.65 368.23,138.80 368.29,141.50 368.36,143.72 368.42,140.16 368.49,145.51 368.55,140.52 368.62,140.58 368.68,139.49 368.75,138.54 368.81,146.20 368.88,140.93 368.94,145.55 369.01,142.41 369.07,144.04 369.14,145.48 369.20,144.68 369.27,143.52 369.33,141.05 369.40,141.83 369.46,146.76 369.53,146.42 369.59,145.17 369.66,143.85 369.72,142.60 369.79,152.55 369.85,145.64 369.92,138.72 369.98,142.77 370.05,140.81 370.11,143.88 370.18,145.99 370.24,144.79 370.31,143.74 370.37,152.62 370.44,146.01 370.50,139.52 370.57,148.08 370.63,142.05 370.70,137.45 370.76,144.23 370.83,143.92 370.89,143.53 370.96,140.64 371.02,139.37 371.09,139.57 371.15,144.45 371.22,141.15 371.28,141.22 371.35,138.27 371.41,141.29 371.48,145.23 371.54,142.69 371.61,140.21 371.67,141.35 371.74,136.06 371.80,136.29 371.87,137.31 371.93,137.32 372.00,140.40 372.06,136.81 372.13,140.18 372.19,133.02 372.26,146.04 372.32,132.22 372.39,142.72 372.45,138.06 372.52,149.83 372.58,139.65 372.65,131.98 372.71,134.51 372.78,137.63 372.84,138.67 372.91,134.98 372.97,136.72 373.04,130.84 373.10,127.27 373.17,131.69 373.23,132.21 373.30,130.93 373.36,129.57 373.43,130.01 373.49,126.61 373.56,122.85 373.62,124.08 373.69,122.29 373.75,124.02 373.82,118.17 373.88,111.65 373.95,117.88 374.01,114.80 374.08,111.12 374.14,111.64 374.21,99.23 374.27,96.97 374.34,91.53 374.40,81.42 374.47,76.04 374.53,66.25 374.60,58.90 374.66,49.26 374.73,43.98 374.79,40.74 374.86,42.01 374.92,47.47 374.99,56.06 375.05,63.23 375.12,70.86 375.18,78.99 375.25,88.81 375.31,90.44 375.38,99.23 375.44,106.46 375.51,96.03 375.57,99.82 375.64,108.04 375.70,101.60 375.77,114.73 375.83,110.33 375.90,112.25 375.96,113.62 376.03,110.70 376.09,111.50 376.16,116.22 376.22,106.28 376.29,115.61 376.35,108.68 376.42,111.59 376.48,111.91 376.55,102.61 376.61,98.93 376.68,104.63 376.74,93.61 376.81,95.42 376.87,86.96 376.94,83.50 377.00,76.05 377.07,67.24 377.13,60.60 377.20,51.90 377.26,44.29 377.33,38.88 377.39,37.00 377.46,39.04 377.52,43.48 377.59,51.99 377.65,62.44 377.72,70.71 377.78,78.40 377.85,87.54 377.91,91.84 377.98,92.68 378.04,103.66 378.11,101.56 378.17,103.49 378.24,103.62 378.30,107.90 378.37,114.33 378.43,117.23 378.50,115.00 378.56,117.71 378.63,115.41 378.69,118.72 378.76,114.11 378.82,120.54 378.89,120.02 378.95,120.57 379.02,121.70 379.08,118.57 379.15,125.27 379.21,122.01 379.28,126.46 379.34,119.59 379.41,127.32 379.47,129.38 379.54,120.61 379.60,125.04 379.67,126.60 379.73,128.30 379.80,122.01 379.86,127.65 379.93,132.40 379.99,131.36 380.06,120.73 380.12,126.12 380.19,127.09 380.25,135.43 380.32,133.76 380.38,128.62 380.45,127.93 380.51,129.59 380.58,127.29 380.64,131.57 380.71,129.19 380.77,130.97 380.84,134.98 380.90,125.50 380.97,129.94 381.03,135.78 381.10,136.05 381.16,133.61 381.23,139.05 381.29,137.98 381.36,129.74 381.42,122.30 381.49,131.60 381.55,132.97 381.62,129.89 381.68,132.74 381.75,131.18 381.81,131.03 381.88,137.10 381.94,131.21 382.01,137.54 382.07,130.74 382.14,126.68 382.20,138.94 382.27,134.11 382.33,136.09 382.40,132.71 382.46,135.84 382.53,130.85 382.59,129.22 382.66,128.80 382.72,129.66 382.79,133.45 382.85,126.51 382.92,138.94 382.98,131.65 383.05,127.57 383.11,129.60 383.18,131.17 383.24,127.90 383.31,137.65 383.37,131.39 383.44,125.39 383.50,130.78 383.57,128.10 383.63,124.89 383.70,123.00 383.76,124.27 383.83,119.96 383.89,121.64 383.96,114.42 384.02,117.31 384.09,115.04 384.15,107.81 384.22,109.30 384.28,99.97 384.35,94.79 384.41,88.75 384.48,75.11 384.54,69.12 384.61,57.43 384.67,46.91 384.74,34.47 384.80,26.07 384.87,20.34 384.93,20.65 385.00,25.96 385.06,35.92 385.13,47.19 385.19,58.44 385.26,70.27 385.32,82.64 385.39,87.00 385.45,98.75 385.52,101.62 385.58,106.02 385.65,113.34 385.71,117.44 385.78,121.75 385.84,121.15 385.91,127.89 385.97,124.62 386.04,126.07 386.10,125.60 386.17,126.53 386.23,127.70 386.30,129.83 386.36,129.30 386.43,135.68 386.49,135.02 386.56,134.93 386.62,132.25 386.69,132.76 386.75,136.23 386.82,135.77 386.88,133.68 386.95,135.43 387.01,137.61 387.08,136.23 387.14,138.45 387.21,147.98 387.27,137.73 387.34,144.61 387.40,135.84 387.47,144.55 387.53,133.94 387.60,138.53 387.66,137.64 387.73,138.29 387.79,136.34 387.86,132.16 387.92,133.28 387.99,144.15 388.05,136.99 388.12,138.84 388.18,139.24 388.25,133.99 388.31,139.99 388.38,135.45 388.44,132.29 388.51,135.27 388.57,132.44 388.64,130.48 388.70,131.50 388.77,127.13 388.83,125.28 388.90,125.12 388.96,126.35 389.03,127.64 389.09,128.52 389.16,130.44 389.22,131.99 389.29,135.17 389.35,139.31 389.42,136.09 389.48,135.72 389.55,141.12 389.61,140.77 389.68,142.43 389.74,136.55 389.81,145.14 389.87,142.71 389.94,141.11 390.00,144.28 390.07,145.50 390.13,142.91 390.20,141.50 390.26,148.69 390.33,142.36 390.39,146.52 390.46,147.77 390.52,144.01 390.59,147.92 390.65,140.76 390.72,143.65 390.78,148.16 390.85,140.63 390.91,145.05 390.98,143.27 391.04,138.95 391.11,140.03 391.17,142.52 391.24,135.19 391.30,142.85 391.37,140.12 391.43,137.50 391.50,135.78 391.56,132.09 391.63,129.51 391.69,127.87 391.76,125.22 391.82,124.45 391.89,122.65 391.95,123.47 392.02,125.67 392.08,127.61 392.15,129.49 392.21,131.81 392.28,134.05 392.34,137.19 392.41,139.92 392.47,139.99 392.54,144.62 392.60,145.48 392.67,140.50 392.73,141.51 392.80,144.71 392.86,152.05 392.93,145.11 392.99,139.37 393.06,149.41 393.12,141.57 393.19,147.79 393.25,140.31 393.32,146.58 393.38,144.96 393.45,142.40 393.51,141.80 393.58,151.93 393.64,148.95 393.71,147.69 393.77,151.35 393.84,147.59 393.90,149.09 393.97,151.08 394.03,147.20 394.10,148.59 394.16,151.34 394.23,148.60 394.29,143.82 394.36,144.80 394.42,159.96 394.49,152.87 394.55,148.80 394.62,147.74 394.68,146.13 394.75,152.65 394.81,146.04 394.88,146.37 394.94,152.03 395.01,153.20 395.07,150.18 395.14,148.02 395.20,148.85 395.27,145.11 395.33,146.02 395.40,143.17 395.46,151.55 395.53,144.66 395.59,150.24 395.66,146.70 395.72,148.23 395.79,144.17 395.85,142.94 395.92,146.79 395.98,152.33 396.05,148.15 396.11,144.76 396.18,144.77 396.24,149.32 396.31,148.25 396.37,144.21 396.44,149.47 396.50,137.92 396.57,137.63 396.63,142.43 396.70,138.29 396.76,133.70 396.83,131.53 396.89,131.07 396.96,126.03 397.02,124.92 397.09,120.23 397.15,116.97 397.22,115.59 397.28,113.84 397.35,113.40 397.41,115.33 397.48,121.02 397.54,122.13 397.61,125.32 397.67,130.57 397.74,130.22 397.80,136.41 397.87,134.82 397.93,134.95 398.00,137.88 398.06,139.43 398.13,141.84 398.19,145.09 398.26,140.36 398.32,145.11 398.39,144.57 398.45,138.88 398.52,145.28 398.58,153.85 398.65,136.97 398.71,137.53 398.78,146.20 398.84,140.01 398.91,142.17 398.97,138.26 399.04,138.12 399.10,134.98 399.17,133.77 399.23,134.43 399.30,130.11 399.36,127.96 399.43,124.86 399.49,122.98 399.56,119.88 399.62,117.27 399.69,116.12 399.75,116.39 399.82,119.14 399.88,121.06 399.95,126.55 400.01,126.27 400.08,131.74 400.14,132.70 400.21,136.22 400.27,135.91 400.34,137.90 400.40,144.48 400.47,142.11 400.53,147.11 400.60,144.12 400.66,145.73 400.73,148.98 400.79,148.39 400.86,148.41 400.92,143.89 400.99,148.50 401.05,145.98 401.12,150.44 401.18,140.98 401.25,148.00 401.31,145.66 401.38,150.30 401.44,151.71 401.51,149.25 401.57,149.17 401.64,150.90 401.70,147.32 401.77,143.43 401.83,146.41 401.90,151.99 401.96,156.95 402.03,149.75 402.09,146.25 402.16,147.91 402.22,149.49 402.29,152.91 402.35,153.64 402.42,145.78 402.48,149.29 402.55,147.75 402.61,149.15 402.68,145.74 402.74,149.85 402.81,145.79 402.87,151.66 402.94,151.13 403.00,147.21 403.07,149.83 403.13,145.62 403.20,147.41 403.26,150.57 403.33,150.78 403.39,152.36 403.46,150.67 403.52,154.48 403.59,152.72 403.65,149.17 403.72,151.33 403.78,145.95 403.85,147.70 403.91,154.50 403.98,152.46 404.04,150.51 404.11,149.82 404.17,149.87 404.24,149.67 404.30,148.26 404.37,146.75 404.43,144.48 404.50,146.91 404.56,143.32 404.63,146.66 404.69,142.82 404.76,140.77 404.82,141.61 404.89,142.01 404.95,139.77 405.02,139.39 405.08,140.22 405.15,140.07 405.21,144.43 405.28,143.20 405.34,145.14 405.41,145.05 405.47,144.56 405.54,149.88 405.60,144.00 405.67,144.79 405.73,151.54 405.80,151.99 405.86,143.63 405.93,147.55 405.99,147.85 406.06,152.89 406.12,152.19 406.19,151.67 406.25,154.96 406.32,162.11 406.38,154.26 406.45,149.39 406.51,149.63 406.58,152.13 406.64,151.62 406.71,151.90 406.77,150.33 406.84,157.91 406.90,148.77 406.97,157.30 407.03,153.00 407.10,149.15 407.16,150.30 407.23,156.55 407.29,153.50 407.36,151.30 407.42,155.77 407.49,153.25 407.55,151.68 407.62,149.06 407.68,153.96 407.75,155.56 407.81,160.07 407.88,148.55 407.94,150.50 408.01,151.07 408.07,149.24 408.14,146.86 408.20,148.47 408.27,162.78 408.33,151.26 408.40,149.51 408.46,152.41 408.53,149.36 408.59,151.29 408.66,153.04 408.72,144.34 408.79,148.29 408.85,155.48 408.92,149.15 408.98,153.38 409.05,152.53 409.11,152.27 409.18,155.60 409.24,151.04 409.31,151.02 409.37,151.80 409.44,155.70 409.50,149.63 409.57,151.08 409.63,155.36 409.70,162.96 409.76,150.82 409.83,148.45 409.89,149.77 409.96,154.56 410.02,151.48 410.09,150.43 410.15,148.61 410.22,152.70 410.28,151.56 410.35,152.95 410.41,148.85 410.48,144.15 410.54,144.71 410.61,153.78 410.67,150.06 410.74,143.97 410.80,147.54 410.87,147.99 410.93,139.59 411.00,147.81 411.06,141.69 411.13,144.49 411.19,141.97 411.26,150.57 411.32,145.97 411.39,144.04 411.45,138.35 411.52,135.20 411.58,137.87 411.65,128.22 411.71,125.93 411.78,124.63 411.84,120.94 411.91,120.00 411.97,118.45 412.04,118.57 412.10,120.23 412.17,123.54 412.23,124.08 412.30,129.23 412.36,134.25 412.43,134.21 412.49,139.04 412.56,132.01 412.62,138.54 412.69,139.89 412.75,146.33 412.82,147.06 412.88,143.42 412.95,144.85 413.01,141.11 413.08,144.82 413.14,146.16 413.21,148.85 413.27,149.11 413.34,149.69 413.40,148.09 413.47,148.98 413.53,147.24 413.60,151.43 413.66,150.23 413.73,150.59 413.79,149.19 413.86,156.43 413.92,144.85 413.99,151.07 414.05,154.00 414.12,148.73 414.18,150.02 414.25,147.45 414.31,143.54 414.38,147.89 414.44,144.04 414.51,153.65 414.57,148.70 414.64,149.39 414.70,148.97 414.77,149.62 414.83,152.08 414.90,147.28 414.96,155.32 415.03,149.98 415.09,152.72 415.16,145.68 415.22,152.60 415.29,156.19 415.35,150.03 415.42,154.19 415.48,149.68 415.55,147.30 415.61,154.12 415.68,147.18 415.74,151.48 415.81,150.70 415.87,158.03 415.94,151.41 416.00,151.30 416.07,151.66 416.13,148.75 416.20,154.06 416.26,160.67 416.33,151.69 416.39,156.44 416.46,158.11 416.52,151.36 416.59,151.61 416.65,149.17 416.72,158.19 416.78,146.93 416.85,154.91 416.91,152.77 416.98,153.00 417.04,152.34 417.11,149.19 417.17,150.63 417.24,155.33 417.30,149.59 417.37,153.43 417.43,155.04 417.50,152.75 417.56,144.91 417.63,143.50 417.69,157.02 417.76,151.80 417.82,153.20 417.89,151.41 417.95,149.43 418.02,152.85 418.08,154.06 418.15,153.88 418.21,152.44 418.28,149.76 418.34,151.34 418.41,155.03 418.47,151.16 418.54,149.89 418.60,148.64 418.67,153.04 418.73,150.24 418.80,148.59 418.86,151.91 418.93,152.42 418.99,154.54 419.06,149.57 419.12,149.01 419.19,158.81 419.25,150.26 419.32,153.31 419.38,149.95 419.45,156.44 419.51,149.70 419.58,157.81 419.64,148.75 419.71,151.23 419.77,151.05 419.84,151.98 419.90,148.98 419.97,151.68 420.03,151.69 420.10,145.52 420.16,147.85 420.23,148.02 420.29,145.65 420.36,146.80 420.42,144.88 420.49,144.68 420.55,144.64 420.62,145.76 420.68,147.64 420.75,144.54 420.81,144.37 420.88,151.31 420.94,150.16 421.01,148.32 421.07,149.88 421.14,150.46 421.20,150.40 421.27,149.35 421.33,153.85 421.40,159.02 421.46,155.04 421.53,151.77 421.59,152.01 421.66,155.39 421.72,149.20 421.79,148.65 421.85,152.98 421.92,149.96 421.98,156.13 422.05,152.29 422.11,156.38 422.18,156.10 422.24,154.11 422.31,154.84 422.37,149.40 422.44,149.15 422.50,150.27 422.57,154.62 422.63,151.77 422.70,146.49 422.76,159.67 422.83,147.10 422.89,151.77 422.96,144.29 423.02,147.39 423.09,156.53 423.15,155.75 423.22,154.58 423.28,143.53 423.35,153.67 423.41,149.72 423.48,152.62 423.54,151.72 423.61,153.88 423.67,152.35 423.74,152.60 423.80,143.00 423.87,151.95 423.93,142.34 424.00,153.24 424.06,142.44 424.13,138.57 424.19,143.09 424.26,137.28 424.32,137.58 424.39,131.74 424.45,129.50 424.52,125.80 424.58,123.88 424.65,123.16 424.71,122.15 424.78,123.54 424.84,124.85 424.91,127.83 424.97,131.80 425.04,133.81 425.10,138.42 425.17,140.84 425.23,140.85 425.30,145.09 425.36,145.93 425.43,141.30 425.49,145.96 425.56,146.27 425.62,150.85 425.69,151.03 425.75,151.43 425.82,146.44 425.88,153.86 425.95,151.62 426.01,157.02 426.08,155.35 426.14,149.68 426.21,158.28 426.27,152.86 426.34,149.35 426.40,151.41 426.47,148.65 426.53,153.75 426.60,150.22 426.66,150.90 426.73,151.75 426.79,159.22 426.86,151.47 426.92,150.09 426.99,150.74 427.05,148.11 427.12,154.02 427.18,155.96 427.25,152.05 427.31,150.60 427.38,153.61 427.44,152.05 427.51,149.62 427.57,150.23 427.64,151.47 427.70,149.25 427.77,149.27 427.83,153.26 427.90,152.06 427.96,151.78 428.03,150.44 428.09,148.23 428.16,147.13 428.22,144.27 428.29,145.45 428.35,140.22 428.42,140.87 428.48,139.92 428.55,138.06 428.61,138.46 428.68,139.06 428.74,141.82 428.81,140.62 428.87,143.37 428.94,144.57 429.00,145.04 429.07,151.15 429.13,146.40 429.20,148.94 429.26,148.12 429.33,151.28 429.39,153.39 429.46,151.86 429.52,154.83 429.59,154.98 429.65,150.16 429.72,152.71 429.78,153.59 429.85,157.60 429.91,154.22 429.98,153.75 430.04,154.83 430.11,154.05 430.17,152.22 430.24,150.21 430.30,159.17 430.37,154.17 430.43,151.31 430.50,150.80 430.56,155.67 430.63,153.06 430.69,153.75 430.76,151.33 430.82,154.08 430.89,154.03 430.95,151.96 431.02,153.78 431.08,157.69 431.15,151.79 431.21,156.44 431.28,150.11 431.34,150.66 431.41,152.25 431.47,153.78 431.54,151.36 431.60,155.41 431.67,152.51 431.73,159.25 431.80,152.64 431.86,153.90 431.93,151.84 431.99,153.01 432.06,152.82 432.12,160.09 432.19,149.71 432.25,150.60 432.32,146.89 432.38,151.17 432.45,159.22 432.51,148.72 432.58,156.02 432.64,152.20 432.71,152.52 432.77,151.45 432.84,153.69 432.90,158.92 432.97,153.36 433.03,155.59 433.10,152.09 433.16,148.62 433.23,148.84 433.29,158.29 433.36,153.30 433.42,155.16 433.49,153.75 433.55,154.92 433.62,151.50 433.68,153.77 433.75,153.94 433.81,150.82 433.88,149.85 433.94,149.28 434.01,154.42 434.07,156.65 434.14,168.87 434.20,157.10 434.27,158.96 434.33,155.96 434.40,153.90 434.46,152.76 434.53,152.22 434.59,152.13 434.66,146.07 434.72,156.21 434.79,154.66 434.85,149.21 434.92,146.10 434.98,151.36 435.05,152.53 435.11,145.91 435.18,142.90 435.24,143.92 435.31,144.28 435.37,147.45 435.44,140.57 435.50,146.02 435.57,144.42 435.63,146.87 435.70,144.82 435.76,142.31 435.83,142.04 435.89,138.06 435.96,135.27 436.02,134.83 436.09,130.30 436.15,128.54 436.22,126.20 436.28,124.93 436.35,124.40 436.41,126.45 436.48,128.32 436.54,130.70 436.61,134.58 436.67,134.62 436.74,136.97 436.80,135.41 436.87,141.17 436.93,137.80 437.00,138.09 437.06,145.74 437.13,137.13 437.19,137.67 437.26,139.87 437.32,141.85 437.39,136.25 437.45,137.15 437.52,129.96 437.58,138.20 437.65,129.75 437.71,125.62 437.78,124.33 437.84,119.11 437.91,115.26 437.97,111.25 438.04,108.86 438.10,107.92 438.17,108.83 438.23,111.61 438.30,115.29 438.36,120.75 438.43,126.04 438.49,130.64 438.56,133.15 438.62,133.92 438.69,143.19 438.75,135.80 438.82,137.80 438.88,139.44 438.95,145.17 439.01,139.76 439.08,153.44 439.14,151.15 439.21,138.37 439.27,149.90 439.34,147.74 439.40,152.90 439.47,150.69 439.53,153.88 439.60,147.40 439.66,147.81 439.73,147.07 439.79,149.39 439.86,148.12 439.92,157.78 439.99,155.47 440.05,147.94 440.12,146.46 440.18,151.53 440.25,151.62 440.31,156.09 440.38,147.40 440.44,149.78 440.51,158.51 440.57,156.42 440.64,151.62 440.70,153.49 440.77,154.97 440.83,147.41 440.90,151.81 440.96,155.37 441.03,150.38 441.09,148.90 441.16,148.64 441.22,151.17 441.29,154.12 441.35,151.56 441.42,150.82 441.48,152.01 441.55,147.09 441.61,148.55 441.68,143.76 441.74,146.67 441.81,143.56 441.87,140.80 441.94,146.37 442.00,140.33 442.07,144.25 442.13,138.29 442.20,139.51 442.26,135.71 442.33,131.19 442.39,129.16 442.46,123.31 442.52,118.58 442.59,115.84 442.65,114.66 442.72,114.34 442.78,115.99 442.85,119.85 442.91,121.88 442.98,127.62 443.04,129.62 443.11,136.59 443.17,132.93 443.24,139.97 443.30,139.17 443.37,141.32 443.43,142.23 443.50,148.41 443.56,147.93 443.63,139.04 443.69,150.61 443.76,150.13 443.82,149.73 443.89,144.34 443.95,142.72 444.02,156.30 444.08,139.89 444.15,150.23 444.21,147.54 444.28,152.72 444.34,154.32 444.41,155.44 444.47,147.11 444.54,157.17 444.60,154.66 444.67,148.30 444.73,142.66 444.80,144.60 444.86,149.38 444.93,150.76 444.99,154.95 445.06,153.74 445.12,151.67 445.19,154.15 445.25,158.44 445.32,154.45 445.38,152.04 445.45,156.16 445.51,149.43 445.58,150.18 445.64,157.18 445.71,158.10 445.77,147.59 445.84,158.23 445.90,152.74 445.97,153.52 446.03,153.70 446.10,152.33 446.16,150.41 446.23,149.01 446.29,153.70 446.36,149.62 446.42,152.14 446.49,156.45 446.55,153.44 446.62,149.88 446.68,149.44 446.75,151.61 446.81,155.27 446.88,154.67 446.94,156.17 447.01,155.15 447.07,157.72 447.14,158.53 447.20,146.97 447.27,156.15 447.33,154.51 447.40,147.09 447.46,149.59 447.53,149.66 447.59,148.94 447.66,144.50 447.72,151.64 447.79,155.23 447.85,152.63 447.92,150.59 447.98,151.66 448.05,150.76 448.11,146.37 448.18,148.39 448.24,154.11 448.31,150.34 448.37,148.74 448.44,151.61 448.50,148.92 448.57,148.33 448.63,146.11 448.70,145.38 448.76,144.52 448.83,143.53 448.89,143.85 448.96,144.74 449.02,145.52 449.09,145.89 449.15,146.21 449.22,145.38 449.28,147.54 449.35,147.27 449.41,150.07 449.48,151.76 449.54,152.66 449.61,150.88 449.67,151.22 449.74,155.72 449.80,149.83 449.87,151.74 449.93,152.87 450.00,153.30 450.06,150.79 450.13,147.90 450.19,154.43 450.26,156.40 450.32,151.98 450.39,146.87 450.45,153.13 450.52,153.12 450.58,151.97 450.65,151.99 450.71,159.29 450.78,152.95 450.84,156.80 450.91,152.36 450.97,148.89 451.04,152.03 451.10,151.95 451.17,147.97 451.23,162.60 451.30,147.28 451.36,157.69 451.43,153.99 451.49,151.72 451.56,153.51 451.62,156.95 451.69,149.05 451.75,158.42 451.82,151.38 451.88,153.90 451.95,148.63 452.01,157.11 452.08,160.59 452.14,158.71 452.21,144.91 452.27,149.10 452.34,152.65 452.40,153.28 452.47,150.08 452.53,156.12 452.60,152.35 452.66,152.09 452.73,153.70 452.79,154.21 452.86,154.82 452.92,149.38 452.99,148.66 453.05,153.67 453.12,155.91 453.18,154.38 453.25,158.12 453.31,154.76 453.38,154.87 453.44,150.10 453.51,154.39 453.57,153.81 453.64,156.73 453.70,153.65 453.77,160.10 453.83,157.43 453.90,155.92 453.96,150.05 454.03,161.36 454.09,154.36 454.16,149.06 454.22,157.50 454.29,152.04 454.35,152.86 454.42,152.99 454.48,147.53 454.55,151.52 454.61,151.07 454.68,155.92 454.74,152.19 454.81,155.09 454.87,155.96 454.94,152.12 455.00,158.40 455.07,156.64 455.13,156.86 455.20,156.80 455.26,159.71 455.33,152.42 455.39,150.69 455.46,150.46 455.52,155.58 455.59,150.66 455.65,160.53 455.72,155.52 455.78,153.53 455.85,156.06 455.91,157.91 455.98,156.94 456.04,158.68 456.11,152.94 456.17,158.64 456.24,158.25 456.30,152.55 456.37,155.05 456.43,152.94 456.50,152.12 456.56,145.70 456.63,147.05 456.69,158.71 456.76,155.88 456.82,151.39 456.89,155.08 456.95,149.60 457.02,161.28 457.08,154.92 457.15,153.96 457.21,155.28 457.28,157.17 457.34,154.62 457.41,157.74 457.47,153.52 457.54,151.32 457.60,154.14 457.67,154.79 457.73,149.42 457.80,150.36 457.86,151.91 457.93,149.21 457.99,153.60 458.06,148.22 458.12,149.25 458.19,146.22 458.25,150.84 458.32,150.72 458.38,160.77 458.45,152.58 458.51,156.65 458.58,155.13 458.64,152.78 458.71,149.71 458.77,152.10 458.84,155.39 458.90,151.89 458.97,154.76 459.03,155.53 459.10,153.39 459.16,151.11 459.23,153.19 459.29,155.90 459.36,155.41 459.42,150.65 459.49,160.35 459.55,151.25 459.62,157.31 459.68,149.45 459.75,153.42 459.81,156.94 459.88,151.50 459.94,155.80 460.01,156.69 460.07,154.22 460.14,158.89 460.20,153.75 460.27,154.93 460.33,156.19 460.40,148.65 460.46,153.81 460.53,156.96 460.59,156.86 460.66,154.17 460.72,153.56 460.79,149.31 460.85,159.87 460.92,156.28 460.98,141.85 461.05,154.06 461.11,153.72 461.18,151.53 461.24,151.41 461.31,153.19 461.37,152.59 461.44,147.44 461.50,144.53 461.57,144.57 461.63,148.27 461.70,149.26 461.76,146.27 461.83,145.39 461.89,146.09 461.96,146.14 462.02,145.56 462.09,144.63 462.15,140.79 462.22,140.07 462.28,136.85 462.35,135.34 462.41,130.38 462.48,128.12 462.54,127.39 462.61,126.45 462.67,127.04 462.74,130.76 462.80,130.95 462.87,135.48 462.93,137.14 463.00,136.32 463.06,140.95 463.13,147.95 463.19,145.12 463.26,148.51 463.32,145.63 463.39,150.22 463.45,147.02 463.52,148.22 463.58,145.29 463.65,148.38 463.71,149.09 463.78,154.60 463.84,146.18 463.91,156.53 463.97,149.86 464.04,152.98 464.10,150.90 464.17,150.72 464.23,157.16 464.30,152.64 464.36,146.37 464.43,155.00 464.49,144.66 464.56,153.15 464.62,154.83 464.69,160.22 464.75,151.45 464.82,153.16 464.88,151.09 464.95,150.84 465.01,146.71 465.08,153.31 465.14,151.16 465.21,155.19 465.27,154.73 465.34,153.00 465.40,156.25 465.47,149.21 465.53,149.08 465.60,146.87 465.66,151.41 465.73,149.39 465.79,151.98 465.86,152.87 465.92,150.49 465.99,146.79 466.05,149.93 466.12,157.07 466.18,157.93 466.25,155.80 466.31,147.57 466.38,148.70 466.44,148.28 466.51,145.32 466.57,149.83 466.64,148.52 466.70,145.28 466.77,140.62 466.83,143.76 466.90,141.10 466.96,135.91 467.03,138.25 467.09,132.06 467.16,130.96 467.22,126.56 467.29,123.88 467.35,123.07 467.42,122.56 467.48,122.81 467.55,127.10 467.61,130.20 467.68,132.73 467.74,136.79 467.81,138.89 467.87,142.97 467.94,143.34 468.00,146.25 468.07,144.81 468.13,144.62 468.20,144.34 468.26,154.98 468.33,156.39 468.39,152.57 468.46,147.73 468.52,147.01 468.59,154.70 468.65,149.77 468.72,154.83 468.78,150.00 468.85,155.06 468.91,153.26 468.98,149.12 469.04,152.00 469.11,154.18 469.17,155.94 469.24,154.92 469.30,158.48 469.37,152.72 469.43,154.60 469.50,157.94 469.56,154.66 469.63,157.50 469.69,157.50 469.76,156.47 469.82,153.95 469.89,149.55 469.95,148.63 470.02,158.76 470.08,152.60 470.15,160.50 470.21,157.65 470.28,150.26 470.34,158.85 470.41,157.11 470.47,151.68 470.54,155.61 470.60,154.26 470.67,159.19 470.73,155.98 470.80,153.27 470.86,158.56 470.93,154.84 470.99,157.92 471.06,160.82 471.12,157.84 471.19,158.90 471.25,152.41 471.32,165.45 471.38,156.25 471.45,152.08 471.51,155.62 471.58,155.36 471.64,148.88 471.71,160.03 471.77,153.42 471.84,157.60 471.90,160.99 471.97,155.04 472.03,158.33 472.10,150.20 472.16,149.43 472.23,155.16 472.29,158.69 472.36,163.17 472.42,155.24 472.49,149.73 472.55,153.02 472.62,152.57 472.68,160.46 472.75,156.38 472.81,159.45 472.88,160.29 472.94,161.47 473.01,157.26 473.07,158.54 473.14,153.70 473.20,156.62 473.27,151.11 473.33,163.48 473.40,160.51 473.46,162.70 473.53,160.03 473.59,156.63 473.66,161.47 473.72,160.68 473.79,160.78 473.85,152.53 473.92,158.88 473.98,153.34 474.05,153.23 474.11,155.35 474.18,156.40 474.24,156.15 474.31,158.44 474.37,156.48 474.44,156.77 474.50,159.93 474.57,157.06 474.63,159.43 474.70,153.95 474.76,162.80 474.83,152.74 474.89,154.85 474.96,160.82 475.02,165.83 475.09,156.99 475.15,157.60 475.22,156.23 475.28,155.35 475.35,159.91 475.41,157.69 475.48,159.10 475.54,155.25 475.61,156.12 475.67,160.74 475.74,155.66 475.80,159.44 475.87,153.90 475.93,155.51 476.00,155.46 476.06,165.79 476.13,155.60 476.19,155.44 476.26,155.60 476.32,158.52 476.39,152.96 476.45,163.31 476.52,150.10 476.58,155.48 476.65,156.64 476.71,152.01 476.78,156.37 476.84,155.78 476.91,156.78 476.97,156.05 477.04,150.20 477.10,156.90 477.17,156.23 477.23,159.75 477.30,156.83 477.36,159.43 477.43,156.23 477.49,161.43 477.56,162.38 477.62,153.38 477.69,160.15 477.75,155.06 477.82,154.76 477.88,157.08 477.95,162.06 478.01,158.83 478.08,157.58 478.14,156.35 478.21,161.02 478.27,157.11 478.34,157.62 478.40,155.36 478.47,156.42 478.53,160.13 478.60,157.46 478.66,157.80 478.73,156.56 478.79,160.38 478.86,160.42 478.92,150.63 478.99,159.23 479.05,156.01 479.12,162.33 479.18,156.56 479.25,159.65 479.31,154.47 479.38,154.17 479.44,160.81 479.51,150.54 479.57,159.53 479.64,155.42 479.70,157.33 479.77,149.12 479.83,155.73 479.90,161.16 479.96,165.14 480.03,148.15 480.09,158.12 480.16,157.14 480.22,161.43 480.29,155.96 480.35,153.06 480.42,160.55 480.48,152.00 480.55,159.14 480.61,152.45 480.68,158.98 480.74,160.53 480.81,160.84 480.87,154.10 480.94,155.48 481.00,152.63 481.07,161.27 481.13,162.49 481.20,158.94 481.26,164.02 481.33,159.02 481.39,159.26 481.46,151.51 481.52,156.02 481.59,150.63 481.65,160.47 481.72,160.84 481.78,157.94 481.85,158.03 481.91,156.46 481.98,158.22 482.04,149.77 482.11,157.64 482.17,150.74 482.24,158.83 482.30,159.54 482.37,161.84 482.43,153.76 482.50,158.65 482.56,159.48 482.63,157.09 482.69,157.25 482.76,159.71 482.82,167.21 482.89,154.94 482.95,151.38 483.02,159.69 483.08,151.52 483.15,162.77 483.21,155.66 483.28,159.75 483.34,159.91 483.41,165.37 483.47,160.38 483.54,159.63 483.60,152.37 483.67,158.56 483.73,160.45 483.80,155.64 483.86,158.30 483.93,157.86 483.99,150.99 484.06,155.36 484.12,160.32 484.19,154.91 484.25,157.30 484.32,155.89 484.38,162.80 484.45,155.80 484.51,158.18 484.58,152.35 484.64,157.05 484.71,158.49 484.77,155.39 484.84,155.65 484.90,150.03 484.97,160.38 485.03,155.66 485.10,158.17 485.16,163.19 485.23,155.13 485.29,157.79 485.36,160.68 485.42,157.51 485.49,160.29 485.55,159.48 485.62,158.54 485.68,154.38 485.75,162.68 485.81,159.17 485.88,149.18 485.94,153.03 486.01,157.13 486.07,162.53 486.14,151.11 486.20,153.38 486.27,160.18 486.33,158.55 486.40,163.83 486.46,159.91 486.53,156.90 486.59,157.48 486.66,159.00 486.72,156.34 486.79,150.35 486.85,152.63 486.92,156.75 486.98,156.77 487.05,153.52 487.11,155.87 487.18,162.48 487.24,163.19 487.31,155.55 487.37,150.76 487.44,153.63 487.50,155.35 487.57,153.08 487.63,156.24 487.70,155.43 487.76,156.48 487.83,157.98 487.89,157.34 487.96,152.89 488.02,158.03 488.09,153.44 488.15,153.60 488.22,156.24 488.28,158.91 488.35,152.34 488.41,148.19 488.48,155.05 488.54,157.64 488.61,158.75 488.67,153.44 488.74,152.51 488.80,158.74 488.87,157.78 488.93,154.83 489.00,142.58 489.06,155.68 489.13,154.54 489.19,160.28 489.26,155.55 489.32,159.94 489.39,155.24 489.45,162.61 489.52,156.86 489.58,155.75 489.65,153.20 489.71,150.32 489.78,155.42 489.84,161.15 489.91,155.35 489.97,153.74 490.04,156.42 490.10,154.66 490.17,163.05 490.23,157.70 490.30,157.15 490.36,156.29 490.43,150.29 490.49,159.14 490.56,152.77 490.62,152.59 490.69,161.38 490.75,156.13 490.82,163.14 490.88,158.68 490.95,158.19 491.01,160.07 491.08,155.47 491.14,158.61 491.21,155.44 491.27,158.44 491.34,156.15 491.40,151.81 491.47,159.79 491.53,154.43 491.60,158.12 491.66,156.97 491.73,154.85 491.79,157.19 491.86,156.63 491.92,158.09 491.99,158.97 492.05,158.46 492.12,163.98 492.18,157.85 492.25,152.14 492.31,154.45 492.38,152.94 492.44,155.91 492.51,156.95 492.57,151.94 492.64,156.39 492.70,160.15 492.77,166.78 492.83,159.40 492.90,156.24 492.96,161.75 493.03,164.44 493.09,157.30 493.16,160.52 493.22,161.86 493.29,167.79 493.35,163.11 493.42,158.19 493.48,161.41 493.55,153.80 493.61,161.35 493.68,157.97 493.74,156.58 493.81,155.69 493.87,158.88 493.94,158.65 494.00,158.44 494.07,159.88 494.13,160.92 494.20,161.29 494.26,163.53 494.33,159.05 494.39,160.08 494.46,159.60 494.52,159.71 494.59,165.81 494.65,158.02 494.72,159.48 494.78,153.31 494.85,162.92 494.91,158.81 494.98,162.52 495.04,165.85 495.11,162.12 495.17,160.05 495.24,162.05 495.30,166.61 495.37,156.98 495.43,160.09 495.50,159.10 495.56,155.11 495.63,161.34 495.69,160.91 495.76,158.11 495.82,159.87 495.89,158.01 495.95,159.40 496.02,164.42 496.08,159.00 496.15,161.37 496.21,161.40 496.28,155.47 496.34,164.02 496.41,161.86 496.47,161.64 496.54,157.70 496.60,163.27 496.67,163.83 496.73,156.97 496.80,161.05 496.86,165.89 496.93,161.85 496.99,158.66 497.06,163.76 497.12,157.69 497.19,158.15 497.25,163.57 497.32,160.39 497.38,163.89 497.45,162.30 497.51,159.11 497.58,162.11 497.64,160.64 497.71,162.11 497.77,161.79 497.84,160.08 497.90,163.33 497.97,161.72 498.03,158.17 498.10,163.45 498.16,161.72 498.23,154.95 498.29,160.73 498.36,159.75 498.42,162.92 498.49,160.86 498.55,168.21 498.62,159.71 498.68,150.33 498.75,159.76 498.81,160.49 498.88,159.14 498.94,159.21 499.01,157.37 499.07,159.70 499.14,162.33 499.20,164.15 499.27,164.20 499.33,163.22 499.40,164.22 499.46,165.75 499.53,158.65 499.59,169.08 499.66,162.59 499.72,158.50 499.79,155.95 499.85,163.33 499.92,164.76 499.98,162.93 500.05,162.90 500.11,161.55 500.18,161.48 500.24,158.20 500.31,166.70 500.37,159.80 500.44,165.16 500.50,159.77 500.57,157.74 500.63,161.08 500.70,161.41 500.76,152.19 500.83,163.80 500.89,160.93 500.96,156.07 501.02,168.06 501.09,164.61 501.15,156.03 501.22,162.56 501.28,166.44 501.35,157.45 501.41,158.70 501.48,153.72 501.54,169.30 501.61,155.39 501.67,160.54 501.74,161.63 501.80,163.20 501.87,157.78 501.93,158.89 502.00,158.14 502.06,163.82 502.13,157.24 502.19,157.15 502.26,159.36 502.32,158.99 502.39,159.85 502.45,161.14 502.52,158.93 502.58,166.63 502.65,163.77 502.71,160.04 502.78,162.31 502.84,157.78 502.91,157.54 502.97,161.60 503.04,161.59 503.10,167.09 503.17,159.99 503.23,162.29 503.30,168.60 503.36,155.83 503.43,158.90 503.49,169.72 503.56,161.28 503.62,155.78 503.69,161.25 503.75,154.91 503.82,155.45 503.88,165.10 503.95,165.74 504.01,165.77 504.08,160.78 504.14,160.11 504.21,160.50 504.27,157.29 504.34,159.96 504.40,156.72 504.47,163.77 504.53,160.15 504.60,158.18 504.66,165.71 504.73,160.83 504.79,155.23 504.86,156.95 504.92,164.08 504.99,158.92 505.05,161.99 505.12,157.92 505.18,156.68 505.25,162.34 505.31,157.21 505.38,157.93 505.44,157.13 505.51,162.83 505.57,157.89 505.64,165.23 505.70,159.96 505.77,156.83 505.83,155.07 505.90,164.69 505.96,165.38 506.03,152.66 506.09,161.20 506.16,157.25 506.22,163.69 506.29,163.81 506.35,157.49 506.42,156.37 506.48,157.66 506.55,160.15 506.61,161.71 506.68,163.65 506.74,165.11 506.81,160.18 506.87,157.98 506.94,154.96 507.00,165.85 507.07,157.40 507.13,159.25 507.20,159.35 507.26,160.58 507.33,155.37 507.39,154.49 507.46,162.60 507.52,161.24 507.59,162.69 507.65,160.84 507.72,165.60 507.78,156.96 507.85,157.59 507.91,155.66 507.98,160.16 508.04,161.44 508.11,156.99 508.17,157.29 508.24,158.81 508.30,163.44 508.37,163.19 508.43,159.83 508.50,169.13 508.56,155.69 508.63,159.94 508.69,155.86 508.76,160.32 508.82,160.52 508.89,157.90 508.95,161.18 509.02,158.50 509.08,165.21 509.15,161.42 509.21,158.69 509.28,157.11 509.34,160.79 509.41,163.01 509.47,161.49 509.54,158.50 509.60,159.40 509.67,151.42 509.73,162.39 509.80,156.81 509.86,161.54 509.93,159.29 509.99,160.26 510.06,161.97 510.12,164.30 510.19,162.03 510.25,163.76 510.32,161.65 510.38,164.68 510.45,158.84 510.51,164.03 510.58,160.96 510.64,157.60 510.71,152.78 510.77,161.60 510.84,155.41 510.90,163.43 510.97,157.20 511.03,163.87 511.10,164.09 511.16,159.46 511.23,157.64 511.29,158.13 511.36,158.83 511.42,160.39 511.49,157.97 511.55,161.35 511.62,157.49 511.68,161.45 511.75,164.15 511.81,157.89 511.88,159.50 511.94,162.24 512.01,161.09 512.07,156.45 512.14,155.11 512.20,155.63 512.27,156.01 512.33,160.27 512.40,163.99 512.46,166.03 512.53,159.81 512.59,157.56 512.66,164.09 512.72,165.19 512.79,160.07 512.85,159.67 512.92,156.92 512.98,156.79 513.05,156.01 513.11,159.87 513.18,159.23 513.24,161.87 513.31,160.54 513.37,161.30 513.44,160.81 513.50,156.44 513.57,162.68 513.63,160.09 513.70,159.04 513.76,165.40 513.83,158.88 513.89,167.26 513.96,156.99 514.02,161.75 514.09,155.27 514.15,159.70 514.22,156.65 514.28,159.87 514.35,164.98 514.41,158.87 514.48,160.56 514.54,160.77 514.61,163.10 514.67,161.41 514.74,162.03 514.80,160.47 514.87,159.33 514.93,162.32 515.00,161.51 515.06,158.44 515.13,161.11 515.19,158.88 515.26,163.60 515.32,160.83 515.39,158.56 515.45,162.32 515.52,161.59 515.58,156.06 515.65,160.51 515.71,162.96 515.78,164.28 515.84,158.97 515.91,160.60 515.97,160.71 516.04,159.92 516.10,158.61 516.17,161.28 516.23,159.50 516.30,168.04 516.36,156.20 516.43,155.89 516.49,164.95 516.56,159.10 516.62,158.56 516.69,160.16 516.75,160.05 516.82,162.96 516.88,158.92 516.95,163.95 517.01,155.21 517.08,157.39 517.14,165.95 517.21,162.66 517.27,158.48 517.34,156.13 517.40,165.21 517.47,159.69 517.53,158.53 517.60,163.81 517.66,162.67 517.73,156.67 517.79,162.34 517.86,158.60 517.92,155.44 517.99,160.06 518.05,159.56 518.12,159.45 518.18,162.92 518.25,161.54 518.31,160.83 518.38,157.66 518.44,158.98 518.51,163.71 518.57,157.32 518.64,162.91 518.70,157.79 518.77,159.47 518.83,156.69 518.90,158.03 518.96,159.03 519.03,162.87 519.09,160.04 519.16,152.47 519.22,156.28 519.29,156.39 519.35,158.36 519.42,162.60 519.48,160.33 519.55,156.94 519.61,153.61 519.68,156.76 519.74,154.82 519.81,158.13 519.87,157.97 519.94,162.10 520.00,158.74 520.07,158.85 520.13,154.02 520.20,159.63 520.26,164.67 520.33,159.02 520.39,163.48 520.46,155.42 520.52,164.19 520.59,154.62 520.65,154.30 520.72,157.87 520.78,162.74 520.85,159.11 520.91,161.29 520.98,163.70 521.05,156.00 521.11,156.67 521.18,159.97 521.24,156.37 521.31,158.23 521.37,154.12 521.44,158.44 521.50,158.89 521.57,158.36 521.63,154.40 521.70,158.43 521.76,157.40 521.83,160.53 521.89,158.34 521.96,160.58 522.02,161.90 522.09,156.66 522.15,154.60 522.22,160.18 522.28,151.45 522.35,152.06 522.41,156.51 522.48,154.76 522.54,158.20 522.61,151.56 522.67,158.72 522.74,160.57 522.80,158.09 522.87,158.10 522.93,154.92 523.00,152.84 523.06,159.33 523.13,152.12 523.19,157.17 523.26,155.98 523.32,154.89 523.39,160.53 523.45,154.83 523.52,156.04 523.58,157.81 523.65,158.78 523.71,163.37 523.78,156.56 523.84,158.31 523.91,163.38 523.97,151.18 524.04,156.27 524.10,161.65 524.17,159.19 524.23,159.91 524.30,159.21 524.36,154.49 524.43,149.82 524.49,155.53 524.56,153.88 524.62,164.22 524.69,161.76 524.75,156.57 524.82,155.93 524.88,156.96 524.95,155.91 525.01,161.08 525.08,156.42 525.14,156.18 525.21,152.95 525.27,163.64 525.34,156.01 525.40,160.32 525.47,152.18 525.53,157.99 525.60,154.61 525.66,153.06 525.73,160.30 525.79,152.13 525.86,155.48 525.92,158.61 525.99,157.93 526.05,155.46 526.12,161.60 526.18,155.36 526.25,157.57 526.31,153.10 526.38,161.47 526.44,161.08 526.51,159.71 526.57,156.31 526.64,154.23 526.70,160.77 526.77,160.07 526.83,157.38 526.90,152.67 526.96,156.00 527.03,154.79 527.09,152.50 527.16,161.49 527.22,162.77 527.29,154.70 527.35,162.17 527.42,158.05 527.48,156.20 527.55,158.40 527.61,158.23 527.68,158.58 527.74,162.99 527.81,153.01 527.87,162.75 527.94,152.43 528.00,156.92 528.07,153.52 528.13,157.53 528.20,158.10 528.26,161.87 528.33,156.42 528.39,162.86 528.46,161.04 528.52,155.82 528.59,164.83 528.65,152.55 528.72,158.25 528.78,160.96 528.85,161.96 528.91,156.52 528.98,157.26 529.04,158.26 529.11,156.74 529.17,159.13 529.24,152.97 529.30,160.35 529.37,159.52 529.43,158.62 529.50,156.50 529.56,164.82 529.63,158.80 529.69,156.18 529.76,152.62 529.82,158.64 529.89,153.30 529.95,158.32 530.02,157.45 530.08,160.32 530.15,163.16 530.21,160.12 530.28,160.21 530.34,163.17 530.41,155.98 530.47,164.42 530.54,159.93 530.60,162.10 530.67,155.30 530.73,158.38 530.80,162.75 530.86,160.01 530.93,159.47 530.99,161.08 531.06,157.61 531.12,159.11 531.19,160.06 531.25,156.24 531.32,161.58 531.38,151.56 531.45,161.92 531.51,165.06 531.58,150.62 531.64,161.85 531.71,156.65 531.77,161.08 531.84,158.25 531.90,159.83 531.97,157.79 532.03,157.44 532.10,157.61 532.16,160.53 532.23,157.38 532.29,158.63 532.36,154.14 532.42,163.29 532.49,154.72 532.55,154.10 532.62,157.70 532.68,159.96 532.75,161.04 532.81,152.81 532.88,154.44 532.94,160.67 533.01,168.57 533.07,156.50 533.14,160.08 533.20,164.03 533.27,160.38 533.33,160.34 533.40,161.01 533.46,160.66 533.53,155.88 533.59,154.88 533.66,163.25 533.72,152.66 533.79,161.02 533.85,163.31 533.92,161.16 533.98,160.01 534.05,157.22 534.11,166.38 534.18,160.70 534.24,156.51 534.31,167.01 534.37,160.62 534.44,154.12 534.50,159.17 534.57,154.63 534.63,157.47 534.70,163.24 534.76,161.64 534.83,158.03 534.89,163.26 534.96,160.35 535.02,155.75 535.09,161.38 535.15,154.65 535.22,168.28 535.28,159.43 535.35,158.89 535.41,156.86 535.48,161.62 535.54,151.55 535.61,149.15 535.67,157.89 535.74,159.36 535.80,162.84 535.87,162.76 535.93,159.90 536.00,157.88 536.06,158.48 536.13,157.88 536.19,160.15 536.26,161.83 536.32,163.85 536.39,159.86 536.45,156.08 536.52,160.94 536.58,154.79 536.65,157.60 536.71,165.07 536.78,158.00 536.84,161.63 536.91,159.54 536.97,164.86 537.04,157.95 537.10,166.92 537.17,161.08 537.23,161.30 537.30,156.10 537.36,158.02 537.43,162.44 537.49,160.99 537.56,160.90 537.62,156.16 537.69,158.55 537.75,161.14 537.82,163.16 537.88,155.28 537.95,157.14 538.01,163.30 538.08,152.69 538.14,161.28 538.21,158.85 538.27,161.25 538.34,159.75 538.40,162.68 538.47,159.84 538.53,157.26 538.60,158.80 538.66,163.09 538.73,157.16 538.79,158.29 538.86,160.01 538.92,159.68 538.99,159.98 539.05,160.89 539.12,151.20 539.18,160.25 539.25,157.68 539.31,166.27 539.38,161.67 539.44,161.50 539.51,158.99 539.57,155.09 539.64,159.39 539.70,163.65 539.77,165.54 539.83,152.96 539.90,160.86 539.96,160.14 540.03,156.08 540.09,159.10 540.16,162.27 540.22,161.12 540.29,164.85 540.35,158.23 540.42,154.46 540.48,158.31 540.55,161.48 540.61,155.75 540.68,165.95 540.74,159.95 540.81,164.59 540.87,155.12 540.94,157.51 541.00,162.28 541.07,162.10 541.13,159.82 541.20,162.55 541.26,157.44 541.33,164.01 541.39,161.20 541.46,159.84 541.52,161.06 541.59,161.46 541.65,156.62 541.72,160.49 541.78,162.92 541.85,155.74 541.91,161.54 541.98,165.88" fill="none" stroke="#115e9f" stroke-width="0.8" stroke-linejoin="round" />
<rect x="296.4" y="5.0" width="246.10" height="184.20" fill="none" stroke="#1a1a1a" stroke-width="1.3"/>
<path d="M303.64 189.20V187.60M310.88 189.20V185.80M318.11 189.20V187.60M325.35 189.20V185.80M332.59 189.20V187.60M339.83 189.20V185.80M347.07 189.20V187.60M354.31 189.20V185.80M361.54 189.20V187.60M368.78 189.20V185.80M376.02 189.20V187.60M383.26 189.20V185.80M390.50 189.20V187.60M397.74 189.20V185.80M404.97 189.20V187.60M412.21 189.20V185.80M419.45 189.20V187.60M426.69 189.20V185.80M433.93 189.20V187.60M441.16 189.20V185.80M448.40 189.20V187.60M455.64 189.20V185.80M462.88 189.20V187.60M470.12 189.20V185.80M477.36 189.20V187.60M484.59 189.20V185.80M491.83 189.20V187.60M499.07 189.20V185.80M506.31 189.20V187.60M513.55 189.20V185.80M520.79 189.20V187.60M528.02 189.20V185.80M535.26 189.20V187.60" stroke="#1a1a1a" stroke-width="1" fill="none"/>
<text class="tk" x="296.40" y="199.60" text-anchor="middle" font-size="8.3">5</text>
<text class="tk" x="310.88" y="199.60" text-anchor="middle" font-size="8.3">10</text>
<text class="tk" x="325.35" y="199.60" text-anchor="middle" font-size="8.3">15</text>
<text class="tk" x="339.83" y="199.60" text-anchor="middle" font-size="8.3">20</text>
<text class="tk" x="354.31" y="199.60" text-anchor="middle" font-size="8.3">25</text>
<text class="tk" x="368.78" y="199.60" text-anchor="middle" font-size="8.3">30</text>
<text class="tk" x="383.26" y="199.60" text-anchor="middle" font-size="8.3">35</text>
<text class="tk" x="397.74" y="199.60" text-anchor="middle" font-size="8.3">40</text>
<text class="tk" x="412.21" y="199.60" text-anchor="middle" font-size="8.3">45</text>
<text class="tk" x="426.69" y="199.60" text-anchor="middle" font-size="8.3">50</text>
<text class="tk" x="441.16" y="199.60" text-anchor="middle" font-size="8.3">55</text>
<text class="tk" x="455.64" y="199.60" text-anchor="middle" font-size="8.3">60</text>
<text class="tk" x="470.12" y="199.60" text-anchor="middle" font-size="8.3">65</text>
<text class="tk" x="484.59" y="199.60" text-anchor="middle" font-size="8.3">70</text>
<text class="tk" x="499.07" y="199.60" text-anchor="middle" font-size="8.3">75</text>
<text class="tk" x="513.55" y="199.60" text-anchor="middle" font-size="8.3">80</text>
<text class="tk" x="528.02" y="199.60" text-anchor="middle" font-size="8.3">85</text>
<text class="tk" x="542.50" y="199.60" text-anchor="middle" font-size="8.3">90</text>
<text x="299.6" y="18.0" font-size="10" font-weight="bold">(b)</text>
<text class="ax" transform="translate(288.0 98.7) rotate(-90)" text-anchor="middle" font-size="10.7">Intensity/a.u.</text>
<text class="ax" x="420.5" y="215.60000000000002" text-anchor="middle" font-size="10" letter-spacing="0.5">2θ/°</text>
<text x="317.7" y="91.2" text-anchor="middle" font-size="9.6">7</text>
<text x="323" y="86.5" text-anchor="middle" font-size="9.6">6</text>
<text x="332.4" y="99.8" text-anchor="middle" font-size="9.6">3</text>
<text x="336.6" y="86.2" text-anchor="middle" font-size="9.6">4</text>
<text x="340.5" y="79.0" text-anchor="middle" font-size="9.6">2</text>
<text x="346.7" y="114.2" text-anchor="middle" font-size="9.6">5</text>
<text x="352.4" y="83.3" text-anchor="middle" font-size="9.6">1</text>
<text x="360.8" y="90.3" text-anchor="middle" font-size="9.6">2</text>
<text x="365.6" y="81.3" text-anchor="middle" font-size="9.6">7</text>
<text x="372.9" y="44.5" text-anchor="middle" font-size="9.6">3</text>
<text x="377.7" y="37.2" text-anchor="middle" font-size="9.6">7</text>
<text x="385.3" y="17.4" text-anchor="middle" font-size="9.6">1</text>
<text x="389.3" y="123.6" text-anchor="middle" font-size="9.6">7</text>
<text x="395.8" y="113.5" text-anchor="middle" font-size="9.6">5</text>
<text x="401.2" y="115.5" text-anchor="middle" font-size="9.6">1</text>
<text x="412.8" y="117.7" text-anchor="middle" font-size="9.6">7</text>
<text x="420.6" y="145.7" text-anchor="middle" font-size="9.6">2</text>
<text x="424.7" y="119.3" text-anchor="middle" font-size="9.6">1</text>
<text x="428.9" y="137.7" text-anchor="middle" font-size="9.6">4</text>
<text x="438.1" y="110.0" text-anchor="middle" font-size="9.6">1</text>
<text x="442.9" y="113.0" text-anchor="middle" font-size="9.6">3</text>
<text x="448.9" y="142.1" text-anchor="middle" font-size="9.6">2</text>
<text x="462.6" y="125" text-anchor="middle" font-size="9.6">1</text>
<text x="467.7" y="122" text-anchor="middle" font-size="9.6">1</text>
<polyline points="33.00,344.30 33.50,339.68 34.00,337.47 34.50,334.42 35.00,330.00 35.42,326.46 35.85,322.67 36.28,320.64 36.70,317.60 37.50,319.00 37.95,317.91 38.40,316.00 38.90,301.20 39.40,316.00 40.00,320.00 40.50,321.06 41.00,319.22 41.50,319.28 42.00,320.50 42.43,321.03 42.86,320.76 43.29,321.59 43.71,321.05 44.14,320.06 44.57,319.84 45.00,320.00 45.43,322.30 45.86,319.98 46.29,319.68 46.71,319.49 47.14,320.65 47.57,320.81 48.00,320.80 48.50,320.38 49.00,320.50 49.50,320.66 50.00,320.30 50.50,321.06 51.00,321.58 51.50,321.00 52.00,321.00 52.50,318.73 53.00,320.10 53.50,317.54 54.00,318.00 54.50,307.70 55.00,318.00 55.80,318.00 56.30,269.00 56.80,318.60 57.40,319.95 58.00,321.60 58.50,321.05 59.00,323.00 59.80,319.00 60.50,324.60 61.00,324.74 61.50,324.20 62.00,325.00 62.50,323.68 63.00,322.00 63.50,324.01 64.00,320.40 64.70,326.00 65.10,321.00 65.55,323.96 66.00,327.00 66.50,328.52 67.00,327.48 67.50,329.40 68.00,327.46 68.50,326.00 69.00,326.90 69.50,326.59 70.00,327.00 70.50,316.80 71.00,327.00 71.50,327.98 72.00,328.42 72.50,329.00 73.05,326.64 73.60,326.00 74.10,318.00 74.60,329.00 75.07,330.18 75.55,329.71 76.03,332.69 76.50,331.80 76.98,331.49 77.46,332.62 77.94,332.16 78.42,333.09 78.90,332.40 79.35,330.79 79.80,331.05 80.25,328.99 80.70,328.00 81.30,319.20 81.90,329.00 82.45,331.17 83.00,331.20 83.45,331.20 83.90,330.25 84.35,328.94 84.80,329.72 85.25,328.93 85.70,328.00 86.30,321.60 86.90,328.00 87.43,328.90 87.95,326.68 88.47,326.97 89.00,326.00 89.60,315.70 90.20,328.00 90.70,330.18 91.20,331.74 91.70,333.43 92.20,335.00 92.65,330.90 93.10,325.99 93.55,321.39 94.00,318.00 94.50,301.70 95.00,310.00 95.50,299.66 96.00,290.00 96.60,240.00 97.40,233.00 97.85,232.75 98.30,231.50 98.80,250.00 99.10,294.00 99.60,262.00 100.10,235.00 100.70,245.00 101.10,285.00 101.70,311.00 102.50,305.00 103.00,315.78 103.50,324.00 104.00,321.83 104.50,318.00 105.00,322.23 105.50,325.33 106.00,328.00 106.50,312.40 107.00,331.50 107.47,328.26 107.93,323.99 108.40,320.00 108.90,307.70 109.50,322.00 110.00,321.32 110.50,320.84 111.00,318.00 111.42,319.47 111.85,320.91 112.28,324.92 112.70,325.00 113.30,306.50 113.90,326.00 114.40,328.04 114.90,330.49 115.40,331.50 115.95,329.49 116.50,326.00 116.93,324.30 117.37,326.60 117.80,323.80 118.30,328.91 118.80,331.00 119.40,329.15 120.00,327.00 120.43,326.81 120.87,325.44 121.30,323.75 121.73,323.57 122.17,323.15 122.60,322.00 123.20,313.60 123.80,322.00 124.30,320.62 124.80,317.94 125.30,315.00 126.00,275.00 126.70,320.00 127.17,323.65 127.65,328.35 128.12,330.15 128.60,334.40 129.20,341.00 130.00,336.00 130.50,338.67 131.00,340.00 131.47,338.68 131.93,335.22 132.40,333.20 132.95,334.08 133.50,338.00 134.00,339.73 134.50,343.00 135.00,340.20 135.50,337.00 136.00,340.12 136.50,343.65 137.00,345.00 137.50,341.15 138.00,339.00 138.50,336.55 139.00,333.00 139.60,316.50 140.20,336.00 140.63,338.20 141.07,338.65 141.50,343.00 142.10,338.79 142.70,333.20 143.50,343.00 143.98,345.95 144.46,345.81 144.94,345.16 145.42,346.57 145.90,347.90 146.43,346.79 146.97,347.42 147.50,344.00 148.00,343.85 148.50,342.75 149.00,343.30 149.50,341.30 150.00,343.58 150.50,346.00 150.97,347.91 151.45,346.07 151.93,346.57 152.40,347.30 152.93,347.48 153.47,347.64 154.00,346.00 154.50,347.03 155.00,347.21 155.50,345.88 156.00,347.90 156.50,346.82 157.00,346.43 157.50,346.02 158.00,346.00 158.47,346.12 158.93,344.95 159.40,345.52 159.87,344.54 160.33,343.80 160.80,343.70 161.23,344.88 161.65,346.21 162.07,347.65 162.50,348.00 163.00,348.29 163.50,349.20 164.00,348.94 164.50,352.16 165.00,351.50 165.50,351.61 166.00,349.10 166.50,347.72 167.00,347.00 167.50,346.62 168.00,348.48 168.50,349.00 168.95,348.15 169.40,348.80 169.85,346.13 170.30,344.90 170.90,345.79 171.50,348.00 172.00,346.26 172.50,349.86 173.00,349.00 173.45,348.26 173.90,345.83 174.35,346.45 174.80,344.03 175.25,347.46 175.70,343.60 176.12,346.47 176.54,347.93 176.96,349.21 177.38,349.46 177.80,353.20 178.26,350.45 178.72,346.60 179.18,345.79 179.64,340.82 180.10,340.00 180.55,336.58 181.00,334.70 181.50,341.10 182.00,346.83 182.50,350.80 183.03,349.20 183.57,348.30 184.10,349.00 184.60,351.55 185.10,353.33 185.60,353.56 186.10,356.20 186.53,355.87 186.96,356.12 187.39,355.96 187.81,356.65 188.24,358.55 188.67,358.33 189.10,358.00 189.58,359.15 190.06,356.73 190.54,356.08 191.02,354.76 191.50,355.00 192.00,356.06 192.50,356.22 193.00,358.50 193.47,356.92 193.94,358.95 194.41,359.51 194.89,358.93 195.36,359.28 195.83,358.29 196.30,358.00 196.73,357.44 197.15,358.18 197.58,357.85 198.01,357.27 198.44,356.83 198.86,357.07 199.29,358.38 199.72,358.56 200.15,358.09 200.57,359.76 201.00,358.60 201.44,358.91 201.87,359.40 202.31,360.10 202.75,358.52 203.18,357.70 203.62,360.17 204.05,359.10 204.49,360.95 204.93,360.28 205.36,361.00 205.80,360.30 206.24,361.11 206.67,358.86 207.11,361.40 207.55,360.38 207.98,360.48 208.42,360.91 208.85,362.10 209.29,362.36 209.73,362.63 210.16,360.53 210.60,362.10 211.08,361.38 211.56,359.64 212.04,361.35 212.52,361.73 213.00,361.00 213.46,359.91 213.92,360.33 214.38,359.88 214.84,360.10 215.30,358.80 215.75,358.97 216.20,359.83 216.65,360.75 217.10,363.76 217.55,364.06 218.00,364.00 218.43,364.19 218.85,364.79 219.28,365.00 219.70,365.37 220.12,365.32 220.55,365.52 220.97,365.03 221.40,366.40 221.83,365.62 222.27,367.34 222.70,366.16 223.13,365.52 223.57,365.05 224.00,365.00 224.46,364.39 224.92,363.98 225.38,362.47 225.84,362.53 226.30,361.70 226.73,362.73 227.15,362.71 227.57,363.50 228.00,365.00 228.50,364.50 229.00,364.80 229.50,366.81 230.00,366.40 230.45,364.62 230.90,366.62 231.35,366.56 231.80,366.77 232.25,367.61 232.70,368.71 233.15,368.04 233.60,368.08 234.05,367.90 234.50,368.54 234.95,369.65 235.40,369.10 235.82,368.79 236.24,368.17 236.66,368.09 237.08,368.24 237.51,368.02 237.93,370.16 238.35,369.55 238.77,369.07 239.19,370.53 239.61,368.75 240.03,369.97 240.45,370.03 240.87,368.06 241.29,368.07 241.72,368.63 242.14,370.21 242.56,370.56 242.98,368.44 243.40,369.50 243.85,370.50 244.29,369.39 244.74,369.49 245.19,369.46 245.63,369.76 246.08,368.59 246.53,369.40 246.97,369.30 247.42,370.88 247.87,372.34 248.31,373.00 248.76,370.49 249.21,369.42 249.65,370.65 250.10,371.10 250.55,370.39 250.99,372.96 251.44,371.85 251.89,370.83 252.33,372.33 252.78,372.08 253.23,370.33 253.67,371.34 254.12,371.68 254.57,371.98 255.01,372.17 255.46,371.85 255.91,372.39 256.35,371.82 256.80,372.40 257.22,371.73 257.65,373.88 258.07,372.99 258.49,373.15 258.92,371.51 259.34,372.82 259.76,373.76 260.19,372.06 260.61,374.18 261.04,373.01 261.46,373.78 261.88,373.42 262.31,373.81 262.73,374.74 263.15,373.47 263.58,375.24 264.00,374.00" fill="none" stroke="#f7b500" stroke-width="1.3" stroke-linejoin="round" />
<rect x="19.1" y="218.3" width="245.30" height="173.60" fill="none" stroke="#1a1a1a" stroke-width="1.3"/>
<path d="M26.31 391.90V390.30M33.53 391.90V388.50M40.74 391.90V390.30M47.96 391.90V388.50M55.17 391.90V390.30M62.39 391.90V388.50M69.60 391.90V390.30M76.82 391.90V388.50M84.03 391.90V390.30M91.25 391.90V388.50M98.46 391.90V390.30M105.68 391.90V388.50M112.89 391.90V390.30M120.11 391.90V388.50M127.32 391.90V390.30M134.54 391.90V388.50M141.75 391.90V390.30M148.96 391.90V388.50M156.18 391.90V390.30M163.39 391.90V388.50M170.61 391.90V390.30M177.82 391.90V388.50M185.04 391.90V390.30M192.25 391.90V388.50M199.47 391.90V390.30M206.68 391.90V388.50M213.90 391.90V390.30M221.11 391.90V388.50M228.33 391.90V390.30M235.54 391.90V388.50M242.76 391.90V390.30M249.97 391.90V388.50M257.19 391.90V390.30" stroke="#1a1a1a" stroke-width="1" fill="none"/>
<text class="tk" x="19.10" y="401.50" text-anchor="middle" font-size="7.7">5</text>
<text class="tk" x="33.53" y="401.50" text-anchor="middle" font-size="7.7">10</text>
<text class="tk" x="47.96" y="401.50" text-anchor="middle" font-size="7.7">15</text>
<text class="tk" x="62.39" y="401.50" text-anchor="middle" font-size="7.7">20</text>
<text class="tk" x="76.82" y="401.50" text-anchor="middle" font-size="7.7">25</text>
<text class="tk" x="91.25" y="401.50" text-anchor="middle" font-size="7.7">30</text>
<text class="tk" x="105.68" y="401.50" text-anchor="middle" font-size="7.7">35</text>
<text class="tk" x="120.11" y="401.50" text-anchor="middle" font-size="7.7">40</text>
<text class="tk" x="134.54" y="401.50" text-anchor="middle" font-size="7.7">45</text>
<text class="tk" x="148.96" y="401.50" text-anchor="middle" font-size="7.7">50</text>
<text class="tk" x="163.39" y="401.50" text-anchor="middle" font-size="7.7">55</text>
<text class="tk" x="177.82" y="401.50" text-anchor="middle" font-size="7.7">60</text>
<text class="tk" x="192.25" y="401.50" text-anchor="middle" font-size="7.7">65</text>
<text class="tk" x="206.68" y="401.50" text-anchor="middle" font-size="7.7">70</text>
<text class="tk" x="221.11" y="401.50" text-anchor="middle" font-size="7.7">75</text>
<text class="tk" x="235.54" y="401.50" text-anchor="middle" font-size="7.7">80</text>
<text class="tk" x="249.97" y="401.50" text-anchor="middle" font-size="7.7">85</text>
<text class="tk" x="264.40" y="401.50" text-anchor="middle" font-size="7.7">90</text>
<text x="21.5" y="229.2" font-size="10" font-weight="bold">(C)</text>
<text class="ax" transform="translate(10.8 304.3) rotate(-90)" text-anchor="middle" font-size="9.4">Intensity/a.u.</text>
<text class="ax" x="142.4" y="417.0" text-anchor="middle" font-size="10" letter-spacing="0.5">2θ/°</text>
<text x="39.4" y="300.6" text-anchor="middle" font-size="9.4">3</text>
<text x="53.3" y="305.3" text-anchor="middle" font-size="9.4">7</text>
<text x="73.9" y="316.8" text-anchor="middle" font-size="9.4">3</text>
<text x="89.4" y="315" text-anchor="middle" font-size="9.4">6</text>
<text x="93.9" y="299.9" text-anchor="middle" font-size="9.4">6</text>
<text x="97.2" y="228.2" text-anchor="middle" font-size="9.4">1</text>
<text x="99.8" y="230.5" text-anchor="middle" font-size="9.4">2</text>
<text x="102.2" y="237.7" text-anchor="middle" font-size="9.4">1</text>
<text x="106.5" y="311.5" text-anchor="middle" font-size="9.4">3</text>
<text x="110.3" y="304.6" text-anchor="middle" font-size="9.4">4</text>
<text x="126.4" y="273.1" text-anchor="middle" font-size="9.4">3</text>
<text x="132.8" y="332.2" text-anchor="middle" font-size="9.4">2</text>
<text x="139.9" y="315.9" text-anchor="middle" font-size="9.4">2</text>
<text x="150.1" y="338.6" text-anchor="middle" font-size="9.4">7</text>
<text x="170.7" y="343.1" text-anchor="middle" font-size="9.4">2</text>
<text x="176.9" y="341.5" text-anchor="middle" font-size="9.4">5</text>
<text x="181" y="333.5" text-anchor="middle" font-size="9.4">3</text>
<text x="191.5" y="353.8" text-anchor="middle" font-size="9.4">7</text>
<text x="215.3" y="357.5" text-anchor="middle" font-size="9.4">3</text>
<text x="226.7" y="360.1" text-anchor="middle" font-size="9.4">3</text>
<text class="lg" x="142.7" y="18.9" font-size="7.9" xml:space="preserve" >1-CaSO<tspan dy="2.0" font-size="6.79">4</tspan><tspan dy="-2.0">​</tspan>·H<tspan dy="2.0" font-size="6.79">2</tspan><tspan dy="-2.0">​</tspan>O</text>
<text class="lg" x="192.5" y="18.9" font-size="7.9" xml:space="preserve" >2-SiO<tspan dy="2.0" font-size="6.79">2</tspan><tspan dy="-2.0">​</tspan></text>
<text class="lg" x="142.7" y="33.2" font-size="7.9" xml:space="preserve" >3-KAl<tspan dy="2.0" font-size="6.79">2</tspan><tspan dy="-2.0">​</tspan>AlSi<tspan dy="2.0" font-size="6.79">3</tspan><tspan dy="-2.0">​</tspan>O<tspan dy="2.0" font-size="6.79">10</tspan><tspan dy="-2.0">​</tspan>(OH)<tspan dy="2.0" font-size="6.79">2</tspan><tspan dy="-2.0">​</tspan></text>
<text class="lg" x="142.7" y="47.2" font-size="7.9" xml:space="preserve" >4-CaAl<tspan dy="2.0" font-size="6.79">2</tspan><tspan dy="-2.0">​</tspan>Si<tspan dy="2.0" font-size="6.79">2</tspan><tspan dy="-2.0">​</tspan>O<tspan dy="2.0" font-size="6.79">8</tspan><tspan dy="-2.0">​</tspan>·4H<tspan dy="2.0" font-size="6.79">2</tspan><tspan dy="-2.0">​</tspan>O</text>
<text class="lg" x="142.7" y="60.6" font-size="7.9" xml:space="preserve"  textLength="119.5" lengthAdjust="spacing">5-<tspan dy="0.7" font-size="10.27">(</tspan><tspan dy="-0.7">​</tspan>NH<tspan dy="2.0" font-size="6.79">4</tspan><tspan dy="-2.0">​</tspan><tspan dy="0.7" font-size="10.27">)</tspan><tspan dy="-0.7">​</tspan>2(Mn，Fe，Mg)<tspan dy="0.7" font-size="10.27">(</tspan><tspan dy="-0.7">​</tspan>SO<tspan dy="2.0" font-size="6.79">4</tspan><tspan dy="-2.0">​</tspan><tspan dy="0.7" font-size="10.27">)</tspan><tspan dy="-0.7">​</tspan>·6H<tspan dy="2.0" font-size="6.79">2</tspan><tspan dy="-2.0">​</tspan>O</text>
<text class="lg" x="142.7" y="74.9" font-size="7.9" xml:space="preserve"  textLength="42.8" lengthAdjust="spacing">6-<tspan dy="0.7" font-size="10.27">(</tspan><tspan dy="-0.7">​</tspan>NH<tspan dy="2.0" font-size="6.79">4</tspan><tspan dy="-2.0">​</tspan><tspan dy="0.7" font-size="10.27">)</tspan><tspan dy="-0.7">​</tspan><tspan dy="2.0" font-size="6.79">2</tspan><tspan dy="-2.0">​</tspan>SO<tspan dy="2.0" font-size="6.79">4</tspan><tspan dy="-2.0">​</tspan></text>
<text class="lg" x="402.1" y="19.2" font-size="7.9" xml:space="preserve" >1-Fe<tspan dy="2.0" font-size="6.79">2</tspan><tspan dy="-2.0">​</tspan>O<tspan dy="2.0" font-size="6.79">3</tspan><tspan dy="-2.0">​</tspan></text>
<text class="lg" x="434.2" y="19.2" font-size="7.9" xml:space="preserve" >2-CaCO<tspan dy="2.0" font-size="6.79">3</tspan><tspan dy="-2.0">​</tspan></text>
<text class="lg" x="467.6" y="19.2" font-size="7.9" xml:space="preserve" >3-Al(OH)<tspan dy="2.0" font-size="6.79">3</tspan><tspan dy="-2.0">​</tspan></text>
<text class="lg" x="401.4" y="34.4" font-size="7.9" xml:space="preserve" >4-Na<tspan dy="2.0" font-size="6.79">2</tspan><tspan dy="-2.0">​</tspan>O·Al<tspan dy="2.0" font-size="6.79">2</tspan><tspan dy="-2.0">​</tspan>O<tspan dy="2.0" font-size="6.79">3</tspan><tspan dy="-2.0">​</tspan>·6SiO<tspan dy="2.0" font-size="6.79">2</tspan><tspan dy="-2.0">​</tspan></text>
<text class="lg" x="475.5" y="34.4" font-size="7.9" xml:space="preserve"  textLength="65.2" lengthAdjust="spacing">5-Na<tspan dy="2.0" font-size="6.79">4</tspan><tspan dy="-2.0">​</tspan><tspan dy="0.7" font-size="10.27">(</tspan><tspan dy="-0.7">​</tspan>Al<tspan dy="2.0" font-size="6.79">3</tspan><tspan dy="-2.0">​</tspan>Si<tspan dy="2.0" font-size="6.79">3</tspan><tspan dy="-2.0">​</tspan>O<tspan dy="2.0" font-size="6.79">12</tspan><tspan dy="-2.0">​</tspan><tspan dy="0.7" font-size="10.27">)</tspan><tspan dy="-0.7">​</tspan>Cl</text>
<text class="lg" x="401.4" y="49.0" font-size="7.9" xml:space="preserve"  textLength="90.2" lengthAdjust="spacing">6-(Na,K,Ca)<tspan dy="2.0" font-size="6.79">3-4</tspan><tspan dy="-2.0">​</tspan><tspan dy="0.7" font-size="10.27">[</tspan><tspan dy="-0.7">​</tspan><tspan dy="0.7" font-size="10.27">(</tspan><tspan dy="-0.7">​</tspan>Si,Al<tspan dy="2.0" font-size="6.79">6</tspan><tspan dy="-2.0">​</tspan><tspan dy="0.7" font-size="10.27">)</tspan><tspan dy="-0.7">​</tspan>O<tspan dy="2.0" font-size="6.79">12</tspan><tspan dy="-2.0">​</tspan><tspan dy="0.7" font-size="10.27">]</tspan><tspan dy="-0.7">​</tspan></text>
<text class="lg" x="401.4" y="64.3" font-size="7.9" xml:space="preserve"  textLength="64.8" lengthAdjust="spacing"><tspan dy="0.7" font-size="10.27">[</tspan><tspan dy="-0.7">​</tspan>SO<tspan dy="2.0" font-size="6.79">4</tspan><tspan dy="-2.0">​</tspan>,CO<tspan dy="2.0" font-size="6.79">3</tspan><tspan dy="-2.0">​</tspan>,Cl<tspan dy="0.7" font-size="10.27">]</tspan><tspan dy="-0.7">​</tspan>·nH<tspan dy="2.0" font-size="6.79">2</tspan><tspan dy="-2.0">​</tspan>O</text>
<text class="lg" x="401.4" y="79.3" font-size="7.9" xml:space="preserve"  textLength="69.8" lengthAdjust="spacing">7-Ca<tspan dy="2.0" font-size="6.79">3</tspan><tspan dy="-2.0">​</tspan>Al<tspan dy="2.0" font-size="6.79">2</tspan><tspan dy="-2.0">​</tspan><tspan dy="0.7" font-size="10.27">(</tspan><tspan dy="-0.7">​</tspan>SiO<tspan dy="2.0" font-size="6.79">4</tspan><tspan dy="-2.0">​</tspan><tspan dy="0.7" font-size="10.27">)</tspan><tspan dy="-0.7">​</tspan>(OH)<tspan dy="2.0" font-size="6.79">8</tspan><tspan dy="-2.0">​</tspan></text>
<text class="lg" x="174.4" y="232.2" font-size="7.2" xml:space="preserve" >1-2CaO·SiO<tspan dy="1.6" font-size="6.19">2</tspan><tspan dy="-1.6">​</tspan></text>
<text class="lg" x="217.7" y="232.2" font-size="7.2" xml:space="preserve" >2-Ca<tspan dy="1.6" font-size="6.19">3</tspan><tspan dy="-1.6">​</tspan>SiO<tspan dy="1.6" font-size="6.19">5</tspan><tspan dy="-1.6">​</tspan></text>
<text class="lg" x="174.4" y="244.1" font-size="7.2" xml:space="preserve" >3-RO</text>
<text class="lg" x="196.9" y="244.1" font-size="7.2" xml:space="preserve" >4-CaO</text>
<text class="lg" x="218.0" y="244.1" font-size="7.2" xml:space="preserve" >5-3CaO·Al<tspan dy="1.6" font-size="6.19">2</tspan><tspan dy="-1.6">​</tspan>O<tspan dy="1.6" font-size="6.19">3</tspan><tspan dy="-1.6">​</tspan></text>
<text class="lg" x="174.4" y="256.9" font-size="7.2" xml:space="preserve" >6-C<tspan dy="1.6" font-size="6.19">2</tspan><tspan dy="-1.6">​</tspan>MS<tspan dy="1.6" font-size="6.19">2</tspan><tspan dy="-1.6">​</tspan></text>
<text class="lg" x="206.4" y="256.9" font-size="7.2" xml:space="preserve" >7-C<tspan dy="1.6" font-size="6.19">2</tspan><tspan dy="-1.6">​</tspan>F</text>
</svg>
</body></html>
